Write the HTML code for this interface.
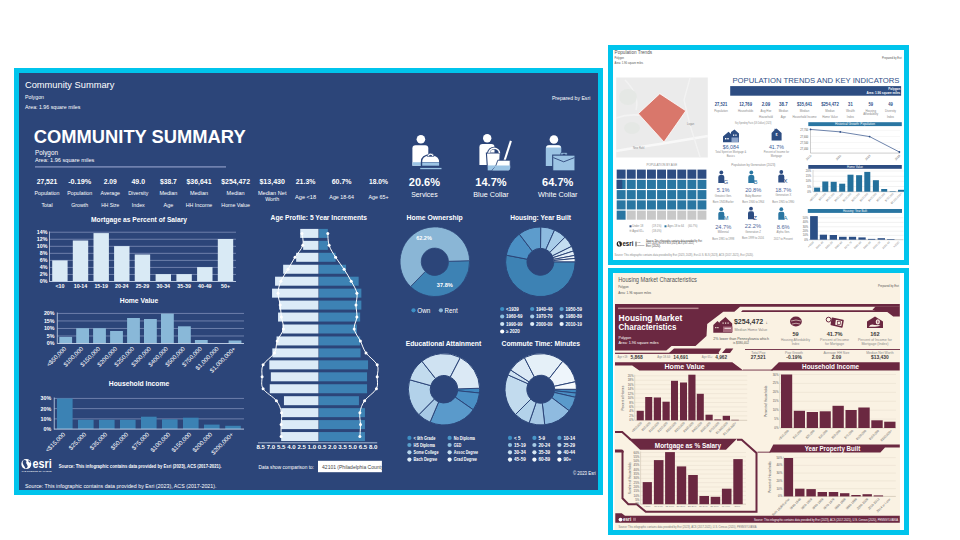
<!DOCTYPE html>
<html><head><meta charset="utf-8"><title>Infographics</title>
<style>
html,body{margin:0;padding:0;background:#fff;}
body{width:960px;height:540px;overflow:hidden;position:relative;}
svg{position:absolute;left:0;top:0;display:block;font-family:"Liberation Sans",sans-serif;}
</style></head><body>
<svg width="960" height="540" viewBox="0 0 960 540">
<rect x="14" y="68" width="589" height="427" fill="#00c4ec" />
<rect x="19" y="73" width="579" height="417" fill="#2c4579" />
<rect x="608" y="45" width="301" height="220" fill="#00c4ec" />
<rect x="613" y="50" width="291" height="210" fill="#ffffff" />
<rect x="608" y="268" width="301" height="267" fill="#00c4ec" />
<rect x="613" y="273" width="291" height="257" fill="#ffffff" />
<rect x="614.5" y="273" width="285.5" height="257" fill="#faf2e3" />
<text x="25" y="87.8" font-size="9.2" fill="#ffffff" textLength="89.3" lengthAdjust="spacingAndGlyphs" >Community Summary</text>
<text x="25" y="99.2" font-size="4.9" fill="#ffffff" textLength="19" lengthAdjust="spacingAndGlyphs" >Polygon</text>
<text x="25" y="108.9" font-size="5.1" fill="#ffffff" textLength="55.4" lengthAdjust="spacingAndGlyphs" >Area: 1.96 square miles</text>
<text x="590.3" y="99.6" font-size="5.9" fill="#ffffff" text-anchor="end" textLength="38.4" lengthAdjust="spacingAndGlyphs" >Prepared by Esri</text>
<text x="33.75" y="142.9" font-size="18.9" fill="#ffffff" font-weight="700" textLength="211.9" lengthAdjust="spacingAndGlyphs" >COMMUNITY SUMMARY</text>
<text x="35" y="154.75" font-size="6.6" fill="#ffffff" textLength="23" lengthAdjust="spacingAndGlyphs" >Polygon</text>
<text x="35" y="161.9" font-size="6.1" fill="#ffffff" textLength="59.4" lengthAdjust="spacingAndGlyphs" >Area: 1.96 square miles</text>
<rect x="35" y="166.3" width="191" height="1.2" fill="#8d9cc6" />
<text x="47" y="183.5" font-size="7" fill="#ffffff" font-weight="700" text-anchor="middle" textLength="20.75" lengthAdjust="spacingAndGlyphs" >27,521</text>
<text x="47" y="195.1" font-size="5.6" fill="#ffffff" text-anchor="middle" textLength="25" lengthAdjust="spacingAndGlyphs" >Population</text>
<text x="47" y="207.4" font-size="5.6" fill="#ffffff" text-anchor="middle" textLength="11.2" lengthAdjust="spacingAndGlyphs" >Total</text>
<text x="79.7" y="183.5" font-size="7" fill="#ffffff" font-weight="700" text-anchor="middle" textLength="23.1" lengthAdjust="spacingAndGlyphs" >-0.19%</text>
<text x="79.7" y="195.1" font-size="5.6" fill="#ffffff" text-anchor="middle" textLength="25" lengthAdjust="spacingAndGlyphs" >Population</text>
<text x="79.7" y="207.4" font-size="5.6" fill="#ffffff" text-anchor="middle" textLength="16.9" lengthAdjust="spacingAndGlyphs" >Growth</text>
<text x="110.3" y="183.5" font-size="7" fill="#ffffff" font-weight="700" text-anchor="middle" textLength="13.1" lengthAdjust="spacingAndGlyphs" >2.09</text>
<text x="110.3" y="195.1" font-size="5.6" fill="#ffffff" text-anchor="middle" textLength="19.5" lengthAdjust="spacingAndGlyphs" >Average</text>
<text x="110.3" y="207.4" font-size="5.6" fill="#ffffff" text-anchor="middle" textLength="18" lengthAdjust="spacingAndGlyphs" >HH Size</text>
<text x="138.25" y="183.5" font-size="7" fill="#ffffff" font-weight="700" text-anchor="middle" textLength="13.5" lengthAdjust="spacingAndGlyphs" >49.0</text>
<text x="138.25" y="195.1" font-size="5.6" fill="#ffffff" text-anchor="middle" textLength="20" lengthAdjust="spacingAndGlyphs" >Diversity</text>
<text x="138.25" y="207.4" font-size="5.6" fill="#ffffff" text-anchor="middle" textLength="13" lengthAdjust="spacingAndGlyphs" >Index</text>
<text x="168.4" y="183.5" font-size="7" fill="#ffffff" font-weight="700" text-anchor="middle" textLength="16.9" lengthAdjust="spacingAndGlyphs" >$38.7</text>
<text x="168.4" y="195.1" font-size="5.6" fill="#ffffff" text-anchor="middle" textLength="18" lengthAdjust="spacingAndGlyphs" >Median</text>
<text x="168.4" y="207.4" font-size="5.6" fill="#ffffff" text-anchor="middle" textLength="9.75" lengthAdjust="spacingAndGlyphs" >Age</text>
<text x="199" y="183.5" font-size="7" fill="#ffffff" font-weight="700" text-anchor="middle" textLength="25" lengthAdjust="spacingAndGlyphs" >$36,641</text>
<text x="199" y="195.1" font-size="5.6" fill="#ffffff" text-anchor="middle" textLength="18" lengthAdjust="spacingAndGlyphs" >Median</text>
<text x="199" y="207.4" font-size="5.6" fill="#ffffff" text-anchor="middle" textLength="26.5" lengthAdjust="spacingAndGlyphs" >HH Income</text>
<text x="235.6" y="183.5" font-size="7" fill="#ffffff" font-weight="700" text-anchor="middle" textLength="28.75" lengthAdjust="spacingAndGlyphs" >$254,472</text>
<text x="235.6" y="195.1" font-size="5.6" fill="#ffffff" text-anchor="middle" textLength="18" lengthAdjust="spacingAndGlyphs" >Median</text>
<text x="235.6" y="207.4" font-size="5.6" fill="#ffffff" text-anchor="middle" textLength="28.5" lengthAdjust="spacingAndGlyphs" >Home Value</text>
<text x="272.2" y="183.6" font-size="7" fill="#ffffff" font-weight="700" text-anchor="middle" textLength="25.5" lengthAdjust="spacingAndGlyphs" >$13,430</text>
<text x="272.2" y="194.9" font-size="5.6" fill="#ffffff" text-anchor="middle" textLength="28.5" lengthAdjust="spacingAndGlyphs" >Median Net</text>
<text x="272.2" y="200.7" font-size="5.6" fill="#ffffff" text-anchor="middle" textLength="14" lengthAdjust="spacingAndGlyphs" >Worth</text>
<text x="305.6" y="183.6" font-size="7" fill="#ffffff" font-weight="700" text-anchor="middle" textLength="19.7" lengthAdjust="spacingAndGlyphs" >21.3%</text>
<text x="305.6" y="199.4" font-size="5.6" fill="#ffffff" text-anchor="middle" textLength="21" lengthAdjust="spacingAndGlyphs" >Age &lt;18</text>
<text x="341.6" y="183.6" font-size="7" fill="#ffffff" font-weight="700" text-anchor="middle" textLength="19.9" lengthAdjust="spacingAndGlyphs" >60.7%</text>
<text x="341.6" y="199.4" font-size="5.6" fill="#ffffff" text-anchor="middle" textLength="24.5" lengthAdjust="spacingAndGlyphs" >Age 18-64</text>
<text x="378.5" y="183.6" font-size="7" fill="#ffffff" font-weight="700" text-anchor="middle" textLength="19" lengthAdjust="spacingAndGlyphs" >18.0%</text>
<text x="378.5" y="199.4" font-size="5.6" fill="#ffffff" text-anchor="middle" textLength="20" lengthAdjust="spacingAndGlyphs" >Age 65+</text>
<text x="424.4" y="186.2" font-size="10.5" fill="#ffffff" font-weight="700" text-anchor="middle" textLength="31.3" lengthAdjust="spacingAndGlyphs" >20.6%</text>
<text x="424.4" y="197" font-size="7.3" fill="#ffffff" text-anchor="middle" textLength="26.4" lengthAdjust="spacingAndGlyphs" >Services</text>
<text x="491" y="186.2" font-size="10.5" fill="#ffffff" font-weight="700" text-anchor="middle" textLength="31.3" lengthAdjust="spacingAndGlyphs" >14.7%</text>
<text x="491" y="197" font-size="7.3" fill="#ffffff" text-anchor="middle" textLength="35.4" lengthAdjust="spacingAndGlyphs" >Blue Collar</text>
<text x="557.7" y="186.2" font-size="10.5" fill="#ffffff" font-weight="700" text-anchor="middle" textLength="31.3" lengthAdjust="spacingAndGlyphs" >64.7%</text>
<text x="557.7" y="197" font-size="7.3" fill="#ffffff" text-anchor="middle" textLength="39.6" lengthAdjust="spacingAndGlyphs" >White Collar</text>
<circle cx="420.9" cy="139.3" r="4.3" fill="#ffffff" />
<path d="M412.4,165.7 L412.4,148.4 Q412.4,145.2 415.6,145.2 L425.1,145.2 Q428.3,145.2 428.3,148.4 L428.3,165.7 Z" fill="#fff"/>
<rect x="412.4" y="162.2" width="15.9" height="3.5" fill="#9cc4e4" />
<path d="M421.6,166.2 L421.6,162 C421.6,157 425.6,155.0 430.6,155.0 C435.6,155.0 439.7,157 439.7,162 L439.7,166.2 Z" fill="#2c4579" stroke="#2c4579" stroke-width="1.6"/>
<path d="M422.2,162 C422.2,157.3 426,155.6 430.6,155.6 C435.2,155.6 439.1,157.3 439.1,162 Z" fill="#fff"/>
<rect x="422.2" y="162.4" width="16.9" height="3.3" fill="#9cc4e4" />
<path d="M427.3,156.5 A3.3,3.3 0 0 1 433.9,156.5 Z" fill="#fff" stroke="#2c4579" stroke-width="0.6"/>
<path d="M428.9,156.3 A1.7,1.5 0 0 1 432.3,156.3 Z" fill="#2c4579"/>
<rect x="420.2" y="167.9" width="21.3" height="1.3" fill="#9cc4e4" />
<circle cx="487.2" cy="138.2" r="4.2" fill="#ffffff" />
<path d="M479.4,165 L479.4,147.2 Q479.4,144 482.6,144 L491.3,144 Q494.5,144 494.5,147.2 L494.5,165 Z" fill="#fff"/>
<path d="M486.4,153 L500.2,153 L499.4,170.6 L487.6,170.6 Z" fill="#fff" stroke="#2c4579" stroke-width="1.1"/>
<path d="M488.6,153.3 A5.6,5.2 0 0 1 499.8,153.3" fill="none" stroke="#2c4579" stroke-width="2.8"/>
<path d="M488.9,153.3 A5.3,5 0 0 1 499.5,153.3" fill="none" stroke="#fff" stroke-width="1.5"/>
<rect x="487.7" y="165.4" width="11.6" height="5" fill="#9cc4e4" />
<path d="M510.9,140.9 L504.4,161" stroke="#fff" stroke-width="2.1"/>
<path d="M497.8,160.2 L510.2,160.2 L510.2,168 Q510.2,170.4 507.8,170.4 L492,170.4 Q496.5,167 497.8,160.2 Z" fill="#fff" stroke="#2c4579" stroke-width="0.9"/>
<path d="M495.5,165.6 L510.2,165.6 L510.2,168 Q510.2,170.4 507.8,170.4 L492.2,170.4 Q494.3,168.5 495.5,165.6 Z" fill="#9cc4e4"/>
<circle cx="553.9" cy="139.5" r="4.3" fill="#ffffff" />
<path d="M545.8,166.1 L545.8,148.4 Q545.8,145.2 549,145.2 L558.1,145.2 Q561.3,145.2 561.3,148.4 L561.3,166.1 Z" fill="#9cc4e4"/>
<path d="M546,147.6 Q546.5,145.3 549,145.3 L558.1,145.3 Q560.8,145.3 561.1,147.6 Z" fill="#fff"/>
<rect x="560.8" y="152.4" width="6.4" height="4" rx="1" fill="#9cc4e4" stroke="#2c4579" stroke-width="0.8"/>
<rect x="562.6" y="153.7" width="2.8" height="1.8" fill="#2c4579" />
<rect x="552.7" y="155.1" width="22.3" height="15.8" fill="#9cc4e4" stroke="#2c4579" stroke-width="1.1"/>
<path d="M553.3,157.6 L563.7,161.8 L574.4,157.6" fill="none" stroke="#2c4579" stroke-width="0.9"/>
<text x="139" y="221.8" font-size="7.7" fill="#ffffff" font-weight="700" text-anchor="middle" textLength="96" lengthAdjust="spacingAndGlyphs" >Mortgage as Percent of Salary</text>
<text x="47.4" y="283.4" font-size="5.3" fill="#ffffff" font-weight="700" text-anchor="end" >0%</text>
<line x1="49.5" y1="274.46" x2="236" y2="274.46" stroke="#7d8eb8" stroke-width="0.8" />
<text x="47.4" y="276.36" font-size="5.3" fill="#ffffff" font-weight="700" text-anchor="end" >2%</text>
<line x1="49.5" y1="267.42" x2="236" y2="267.42" stroke="#7d8eb8" stroke-width="0.8" />
<text x="47.4" y="269.32" font-size="5.3" fill="#ffffff" font-weight="700" text-anchor="end" >4%</text>
<line x1="49.5" y1="260.38" x2="236" y2="260.38" stroke="#7d8eb8" stroke-width="0.8" />
<text x="47.4" y="262.28" font-size="5.3" fill="#ffffff" font-weight="700" text-anchor="end" >6%</text>
<line x1="49.5" y1="253.34" x2="236" y2="253.34" stroke="#7d8eb8" stroke-width="0.8" />
<text x="47.4" y="255.24" font-size="5.3" fill="#ffffff" font-weight="700" text-anchor="end" >8%</text>
<line x1="49.5" y1="246.3" x2="236" y2="246.3" stroke="#7d8eb8" stroke-width="0.8" />
<text x="47.4" y="248.2" font-size="5.3" fill="#ffffff" font-weight="700" text-anchor="end" >10%</text>
<line x1="49.5" y1="239.26" x2="236" y2="239.26" stroke="#7d8eb8" stroke-width="0.8" />
<text x="47.4" y="241.16" font-size="5.3" fill="#ffffff" font-weight="700" text-anchor="end" >12%</text>
<line x1="49.5" y1="232.22" x2="236" y2="232.22" stroke="#7d8eb8" stroke-width="0.8" />
<text x="47.4" y="234.12" font-size="5.3" fill="#ffffff" font-weight="700" text-anchor="end" >14%</text>
<rect x="52.2" y="260.4" width="15.4" height="21.1" fill="#d9eaf5" />
<text x="59.9" y="287.7" font-size="5.3" fill="#ffffff" font-weight="700" text-anchor="middle" >&lt;10</text>
<rect x="72.8" y="240.5" width="15.4" height="41" fill="#d9eaf5" />
<text x="80.5" y="287.7" font-size="5.3" fill="#ffffff" font-weight="700" text-anchor="middle" >10-14</text>
<rect x="93.5" y="233.1" width="15.4" height="48.4" fill="#d9eaf5" />
<text x="101.2" y="287.7" font-size="5.3" fill="#ffffff" font-weight="700" text-anchor="middle" >15-19</text>
<rect x="114.1" y="246.1" width="15.4" height="35.4" fill="#d9eaf5" />
<text x="121.8" y="287.7" font-size="5.3" fill="#ffffff" font-weight="700" text-anchor="middle" >20-24</text>
<rect x="134.75" y="254.5" width="15.4" height="27" fill="#d9eaf5" />
<text x="142.45" y="287.7" font-size="5.3" fill="#ffffff" font-weight="700" text-anchor="middle" >25-29</text>
<rect x="155.6" y="274.1" width="15.4" height="7.4" fill="#d9eaf5" />
<text x="163.3" y="287.7" font-size="5.3" fill="#ffffff" font-weight="700" text-anchor="middle" >30-34</text>
<rect x="176.4" y="274.1" width="15.4" height="7.4" fill="#d9eaf5" />
<text x="184.1" y="287.7" font-size="5.3" fill="#ffffff" font-weight="700" text-anchor="middle" >35-39</text>
<rect x="197.1" y="267.1" width="15.4" height="14.4" fill="#d9eaf5" />
<text x="204.8" y="287.7" font-size="5.3" fill="#ffffff" font-weight="700" text-anchor="middle" >40-49</text>
<rect x="217.8" y="239" width="15.4" height="42.5" fill="#d9eaf5" />
<text x="225.5" y="287.7" font-size="5.3" fill="#ffffff" font-weight="700" text-anchor="middle" >50+</text>
<line x1="49.5" y1="231.5" x2="49.5" y2="282" stroke="#c8d6ea" stroke-width="0.8" />
<line x1="49.5" y1="281.5" x2="236" y2="281.5" stroke="#c8d6ea" stroke-width="0.9" />
<text x="139" y="302.8" font-size="7.7" fill="#ffffff" font-weight="700" text-anchor="middle" textLength="38.5" lengthAdjust="spacingAndGlyphs" >Home Value</text>
<text x="54.5" y="345.4" font-size="5.3" fill="#ffffff" font-weight="700" text-anchor="end" >0%</text>
<line x1="57.3" y1="335.98" x2="244" y2="335.98" stroke="#7d8eb8" stroke-width="0.8" />
<text x="54.5" y="337.88" font-size="5.3" fill="#ffffff" font-weight="700" text-anchor="end" >5%</text>
<line x1="57.3" y1="328.46" x2="244" y2="328.46" stroke="#7d8eb8" stroke-width="0.8" />
<text x="54.5" y="330.36" font-size="5.3" fill="#ffffff" font-weight="700" text-anchor="end" >10%</text>
<line x1="57.3" y1="320.94" x2="244" y2="320.94" stroke="#7d8eb8" stroke-width="0.8" />
<text x="54.5" y="322.84" font-size="5.3" fill="#ffffff" font-weight="700" text-anchor="end" >15%</text>
<line x1="57.3" y1="313.42" x2="244" y2="313.42" stroke="#7d8eb8" stroke-width="0.8" />
<text x="54.5" y="315.32" font-size="5.3" fill="#ffffff" font-weight="700" text-anchor="end" >20%</text>
<rect x="59.3" y="336.9" width="12.8" height="6.6" fill="#89b8d8" />
<text transform="translate(66.7,349.2) rotate(-45)" font-size="6" fill="#ffffff" text-anchor="end">&lt;$50,000</text>
<rect x="76.2" y="328.2" width="12.8" height="15.3" fill="#89b8d8" />
<text transform="translate(83.6,349.2) rotate(-45)" font-size="6" fill="#ffffff" text-anchor="end">$100,000</text>
<rect x="93.1" y="328.2" width="12.8" height="15.3" fill="#89b8d8" />
<text transform="translate(100.5,349.2) rotate(-45)" font-size="6" fill="#ffffff" text-anchor="end">$150,000</text>
<rect x="110.1" y="331" width="12.8" height="12.5" fill="#89b8d8" />
<text transform="translate(117.5,349.2) rotate(-45)" font-size="6" fill="#ffffff" text-anchor="end">$200,000</text>
<rect x="127.1" y="318" width="12.8" height="25.5" fill="#89b8d8" />
<text transform="translate(134.5,349.2) rotate(-45)" font-size="6" fill="#ffffff" text-anchor="end">$250,000</text>
<rect x="144" y="319" width="12.8" height="24.5" fill="#89b8d8" />
<text transform="translate(151.4,349.2) rotate(-45)" font-size="6" fill="#ffffff" text-anchor="end">$300,000</text>
<rect x="161" y="313.6" width="12.8" height="29.9" fill="#89b8d8" />
<text transform="translate(168.4,349.2) rotate(-45)" font-size="6" fill="#ffffff" text-anchor="end">$400,000</text>
<rect x="178" y="326.3" width="12.8" height="17.2" fill="#89b8d8" />
<text transform="translate(185.4,349.2) rotate(-45)" font-size="6" fill="#ffffff" text-anchor="end">$500,000</text>
<rect x="194.9" y="340" width="12.8" height="3.5" fill="#89b8d8" />
<text transform="translate(202.3,349.2) rotate(-45)" font-size="6" fill="#ffffff" text-anchor="end">$750,000</text>
<text transform="translate(219.2,349.2) rotate(-45)" font-size="6" fill="#ffffff" text-anchor="end">$1,000,000</text>
<rect x="228.6" y="340.5" width="12.8" height="3" fill="#89b8d8" />
<text transform="translate(236,349.2) rotate(-45)" font-size="6" fill="#ffffff" text-anchor="end">$1,000,000+</text>
<line x1="57.3" y1="312.5" x2="57.3" y2="344" stroke="#c8d6ea" stroke-width="0.8" />
<line x1="57.3" y1="343.5" x2="244" y2="343.5" stroke="#c8d6ea" stroke-width="0.9" />
<text x="139" y="386.2" font-size="7.7" fill="#ffffff" font-weight="700" text-anchor="middle" textLength="60.5" lengthAdjust="spacingAndGlyphs" >Household Income</text>
<text x="51.2" y="431" font-size="5.3" fill="#ffffff" font-weight="700" text-anchor="end" >0%</text>
<line x1="54.25" y1="418.87" x2="244" y2="418.87" stroke="#7d8eb8" stroke-width="0.8" />
<text x="51.2" y="420.77" font-size="5.3" fill="#ffffff" font-weight="700" text-anchor="end" >10%</text>
<line x1="54.25" y1="408.64" x2="244" y2="408.64" stroke="#7d8eb8" stroke-width="0.8" />
<text x="51.2" y="410.54" font-size="5.3" fill="#ffffff" font-weight="700" text-anchor="end" >20%</text>
<line x1="54.25" y1="398.41" x2="244" y2="398.41" stroke="#7d8eb8" stroke-width="0.8" />
<text x="51.2" y="400.31" font-size="5.3" fill="#ffffff" font-weight="700" text-anchor="end" >30%</text>
<rect x="57" y="398.4" width="15.6" height="30.7" fill="#3b82b4" />
<text transform="translate(65.6,434.8) rotate(-45)" font-size="6" fill="#ffffff" text-anchor="end">&lt;$15,000</text>
<rect x="78" y="419.8" width="15.6" height="9.3" fill="#3b82b4" />
<text transform="translate(86.6,434.8) rotate(-45)" font-size="6" fill="#ffffff" text-anchor="end">$25,000</text>
<rect x="99" y="419.8" width="15.6" height="9.3" fill="#3b82b4" />
<text transform="translate(107.6,434.8) rotate(-45)" font-size="6" fill="#ffffff" text-anchor="end">$35,000</text>
<rect x="120" y="419.8" width="15.6" height="9.3" fill="#3b82b4" />
<text transform="translate(128.6,434.8) rotate(-45)" font-size="6" fill="#ffffff" text-anchor="end">$50,000</text>
<rect x="141" y="416.7" width="15.6" height="12.4" fill="#3b82b4" />
<text transform="translate(149.6,434.8) rotate(-45)" font-size="6" fill="#ffffff" text-anchor="end">$75,000</text>
<rect x="162" y="419.3" width="15.6" height="9.8" fill="#3b82b4" />
<text transform="translate(170.6,434.8) rotate(-45)" font-size="6" fill="#ffffff" text-anchor="end">$100,000</text>
<rect x="183" y="417.7" width="15.6" height="11.4" fill="#3b82b4" />
<text transform="translate(191.6,434.8) rotate(-45)" font-size="6" fill="#ffffff" text-anchor="end">$150,000</text>
<rect x="204" y="424.6" width="15.6" height="4.5" fill="#3b82b4" />
<text transform="translate(212.6,434.8) rotate(-45)" font-size="6" fill="#ffffff" text-anchor="end">$200,000</text>
<rect x="225.2" y="425.8" width="15.6" height="3.3" fill="#3b82b4" />
<text transform="translate(233.8,434.8) rotate(-45)" font-size="6" fill="#ffffff" text-anchor="end">$200,000+</text>
<line x1="54.25" y1="397.5" x2="54.25" y2="429.6" stroke="#c8d6ea" stroke-width="0.8" />
<line x1="54.25" y1="429.1" x2="244" y2="429.1" stroke="#c8d6ea" stroke-width="0.9" />
<circle cx="26.3" cy="464.1" r="5" fill="#ffffff" />
<path d="M23,460.5 Q25,459.5 26.5,461 Q25.5,463 27,464.5 Q28.5,466 27,468 L25.5,468.5 Q24.5,466 23.5,465 Q22,463.5 23,460.5 Z" fill="#2c4579"/>
<path d="M28.5,460 Q30.5,461 30.5,463 Q29.5,462.5 28.5,461.5 Z" fill="#2c4579"/>
<text x="32.6" y="467.6" font-size="12" fill="#ffffff" font-weight="700" textLength="19.2" lengthAdjust="spacingAndGlyphs" >esri</text>
<text x="21.5" y="472.3" font-size="2.2" fill="#ffffff" textLength="30" lengthAdjust="spacingAndGlyphs" >THE SCIENCE OF WHERE</text>
<text x="58.8" y="468.2" font-size="5.1" fill="#ffffff" font-weight="700" textLength="162.7" lengthAdjust="spacingAndGlyphs" >Source: This infographic contains data provided by Esri (2023), ACS (2017-2021).</text>
<text x="25" y="488" font-size="5.4" fill="#ffffff" textLength="191.5" lengthAdjust="spacingAndGlyphs" >Source: This infographic contains data provided by Esri (2023), ACS (2017-2021).</text>
<text x="595.8" y="474.8" font-size="5.8" fill="#ffffff" text-anchor="end" textLength="22.9" lengthAdjust="spacingAndGlyphs" >© 2023 Esri</text>
<text x="318.75" y="220.1" font-size="7.7" fill="#ffffff" font-weight="700" text-anchor="middle" textLength="96.3" lengthAdjust="spacingAndGlyphs" >Age Profile: 5 Year Increments</text>
<rect x="300.25" y="228.9" width="18.2" height="9" fill="#dcebf7" />
<rect x="319.05" y="228.9" width="8.8" height="9" fill="#3d82b4" />
<rect x="303.15" y="240.85" width="15.3" height="9" fill="#dcebf7" />
<rect x="319.05" y="240.85" width="8.8" height="9" fill="#3d82b4" />
<rect x="296.15" y="252.8" width="22.3" height="9" fill="#dcebf7" />
<rect x="319.05" y="252.8" width="16.6" height="9" fill="#3d82b4" />
<rect x="283.15" y="264.75" width="35.3" height="9" fill="#dcebf7" />
<rect x="319.05" y="264.75" width="27" height="9" fill="#3d82b4" />
<rect x="275.05" y="276.7" width="43.4" height="9" fill="#dcebf7" />
<rect x="319.05" y="276.7" width="39.6" height="9" fill="#3d82b4" />
<rect x="272.05" y="288.65" width="46.4" height="9" fill="#dcebf7" />
<rect x="319.05" y="288.65" width="42.3" height="9" fill="#3d82b4" />
<rect x="279.05" y="300.6" width="39.4" height="9" fill="#dcebf7" />
<rect x="319.05" y="300.6" width="42.3" height="9" fill="#3d82b4" />
<rect x="278.05" y="312.55" width="40.4" height="9" fill="#dcebf7" />
<rect x="319.05" y="312.55" width="41.1" height="9" fill="#3d82b4" />
<rect x="282.45" y="324.5" width="36" height="9" fill="#dcebf7" />
<rect x="319.05" y="324.5" width="37.9" height="9" fill="#3d82b4" />
<rect x="276.55" y="336.45" width="41.9" height="9" fill="#dcebf7" />
<rect x="319.05" y="336.45" width="41.1" height="9" fill="#3d82b4" />
<rect x="272.35" y="348.4" width="46.1" height="9" fill="#dcebf7" />
<rect x="319.05" y="348.4" width="41.5" height="9" fill="#3d82b4" />
<rect x="269.35" y="360.35" width="49.1" height="9" fill="#dcebf7" />
<rect x="319.05" y="360.35" width="49" height="9" fill="#3d82b4" />
<rect x="270.85" y="372.3" width="47.6" height="9" fill="#dcebf7" />
<rect x="319.05" y="372.3" width="48" height="9" fill="#3d82b4" />
<rect x="269.75" y="384.25" width="48.7" height="9" fill="#dcebf7" />
<rect x="319.05" y="384.25" width="48" height="9" fill="#3d82b4" />
<rect x="283.95" y="396.2" width="34.5" height="9" fill="#dcebf7" />
<rect x="319.05" y="396.2" width="39.9" height="9" fill="#3d82b4" />
<rect x="281.15" y="408.15" width="37.3" height="9" fill="#dcebf7" />
<rect x="319.05" y="408.15" width="45.9" height="9" fill="#3d82b4" />
<rect x="281.15" y="420.1" width="37.3" height="9" fill="#dcebf7" />
<rect x="319.05" y="420.1" width="45.9" height="9" fill="#3d82b4" />
<rect x="281.15" y="432.05" width="37.3" height="9" fill="#dcebf7" />
<rect x="319.05" y="432.05" width="45.9" height="9" fill="#3d82b4" />
<path d="M302,233.4 C302.13,235.39 303.97,241.37 302.8,245.35 C301.63,249.33 297.47,253.32 295,257.3 C292.53,261.28 290.35,265.27 288,269.25 C285.65,273.23 282.57,277.22 280.9,281.2 C279.23,285.18 278.12,289.17 278,293.15 C277.88,297.13 279.63,301.12 280.2,305.1 C280.77,309.08 280.87,313.07 281.4,317.05 C281.93,321.03 284.1,325.02 283.4,329 C282.7,332.98 278.68,336.97 277.2,340.95 C275.72,344.93 276.85,348.92 274.5,352.9 C272.15,356.88 265.17,360.87 263.1,364.85 C261.03,368.83 262.1,372.82 262.1,376.8 C262.1,380.78 260.72,384.77 263.1,388.75 C265.48,392.73 273.33,396.72 276.4,400.7 C279.47,404.68 280.72,408.67 281.5,412.65 C282.28,416.63 281.17,420.62 281.1,424.6 C281.03,428.58 281.1,434.56 281.1,436.55" fill="none" stroke="#fff" stroke-width="1.0"/>
<circle cx="302" cy="233.4" r="1.5" fill="#ffffff" />
<circle cx="302.8" cy="245.35" r="1.5" fill="#ffffff" />
<circle cx="295" cy="257.3" r="1.5" fill="#ffffff" />
<circle cx="288" cy="269.25" r="1.5" fill="#ffffff" />
<circle cx="280.9" cy="281.2" r="1.5" fill="#ffffff" />
<circle cx="278" cy="293.15" r="1.5" fill="#ffffff" />
<circle cx="280.2" cy="305.1" r="1.5" fill="#ffffff" />
<circle cx="281.4" cy="317.05" r="1.5" fill="#ffffff" />
<circle cx="283.4" cy="329" r="1.5" fill="#ffffff" />
<circle cx="277.2" cy="340.95" r="1.5" fill="#ffffff" />
<circle cx="274.5" cy="352.9" r="1.5" fill="#ffffff" />
<circle cx="263.1" cy="364.85" r="1.5" fill="#ffffff" />
<circle cx="262.1" cy="376.8" r="1.5" fill="#ffffff" />
<circle cx="263.1" cy="388.75" r="1.5" fill="#ffffff" />
<circle cx="276.4" cy="400.7" r="1.5" fill="#ffffff" />
<circle cx="281.5" cy="412.65" r="1.5" fill="#ffffff" />
<circle cx="281.1" cy="424.6" r="1.5" fill="#ffffff" />
<circle cx="281.1" cy="436.55" r="1.5" fill="#ffffff" />
<path d="M327.8,233.4 C328.02,235.39 327.8,241.37 329.1,245.35 C330.4,249.33 333.1,253.32 335.6,257.3 C338.1,261.28 341.5,265.27 344.1,269.25 C346.7,273.23 349.07,277.22 351.2,281.2 C353.33,285.18 356.1,289.17 356.9,293.15 C357.7,297.13 356,301.12 356,305.1 C356,309.08 357.2,313.07 356.9,317.05 C356.6,321.03 353.62,325.02 354.2,329 C354.78,332.98 358.43,336.97 360.4,340.95 C362.37,344.93 363.2,348.92 366,352.9 C368.8,356.88 375.33,360.87 377.2,364.85 C379.07,368.83 377.33,372.82 377.2,376.8 C377.07,380.78 378.5,384.77 376.4,388.75 C374.3,392.73 367.35,396.72 364.6,400.7 C361.85,404.68 360.58,408.67 359.9,412.65 C359.22,416.63 360.5,420.62 360.5,424.6 C360.5,428.58 360,434.56 359.9,436.55" fill="none" stroke="#fff" stroke-width="1.0"/>
<circle cx="327.8" cy="233.4" r="1.5" fill="#ffffff" />
<circle cx="329.1" cy="245.35" r="1.5" fill="#ffffff" />
<circle cx="335.6" cy="257.3" r="1.5" fill="#ffffff" />
<circle cx="344.1" cy="269.25" r="1.5" fill="#ffffff" />
<circle cx="351.2" cy="281.2" r="1.5" fill="#ffffff" />
<circle cx="356.9" cy="293.15" r="1.5" fill="#ffffff" />
<circle cx="356" cy="305.1" r="1.5" fill="#ffffff" />
<circle cx="356.9" cy="317.05" r="1.5" fill="#ffffff" />
<circle cx="354.2" cy="329" r="1.5" fill="#ffffff" />
<circle cx="360.4" cy="340.95" r="1.5" fill="#ffffff" />
<circle cx="366" cy="352.9" r="1.5" fill="#ffffff" />
<circle cx="377.2" cy="364.85" r="1.5" fill="#ffffff" />
<circle cx="377.2" cy="376.8" r="1.5" fill="#ffffff" />
<circle cx="376.4" cy="388.75" r="1.5" fill="#ffffff" />
<circle cx="364.6" cy="400.7" r="1.5" fill="#ffffff" />
<circle cx="359.9" cy="412.65" r="1.5" fill="#ffffff" />
<circle cx="360.5" cy="424.6" r="1.5" fill="#ffffff" />
<circle cx="359.9" cy="436.55" r="1.5" fill="#ffffff" />
<line x1="258" y1="442.8" x2="377.2" y2="442.8" stroke="#c8d6ea" stroke-width="0.8" />
<text x="260.7" y="449.3" font-size="6.1" fill="#ffffff" font-weight="700" text-anchor="middle" >8.5</text>
<text x="270.93" y="449.3" font-size="6.1" fill="#ffffff" font-weight="700" text-anchor="middle" >7.0</text>
<text x="281.16" y="449.3" font-size="6.1" fill="#ffffff" font-weight="700" text-anchor="middle" >5.5</text>
<text x="291.39" y="449.3" font-size="6.1" fill="#ffffff" font-weight="700" text-anchor="middle" >4.0</text>
<text x="301.62" y="449.3" font-size="6.1" fill="#ffffff" font-weight="700" text-anchor="middle" >2.5</text>
<text x="311.85" y="449.3" font-size="6.1" fill="#ffffff" font-weight="700" text-anchor="middle" >1.0</text>
<text x="322.08" y="449.3" font-size="6.1" fill="#ffffff" font-weight="700" text-anchor="middle" >0.5</text>
<text x="332.31" y="449.3" font-size="6.1" fill="#ffffff" font-weight="700" text-anchor="middle" >2.0</text>
<text x="342.54" y="449.3" font-size="6.1" fill="#ffffff" font-weight="700" text-anchor="middle" >3.5</text>
<text x="352.77" y="449.3" font-size="6.1" fill="#ffffff" font-weight="700" text-anchor="middle" >5.0</text>
<text x="363" y="449.3" font-size="6.1" fill="#ffffff" font-weight="700" text-anchor="middle" >6.5</text>
<text x="373.23" y="449.3" font-size="6.1" fill="#ffffff" font-weight="700" text-anchor="middle" >8.0</text>
<text x="258.6" y="468.9" font-size="5.6" fill="#ffffff" textLength="55.4" lengthAdjust="spacingAndGlyphs" >Data show comparison to:</text>
<rect x="318" y="460.8" width="63.9" height="11.4" fill="#ffffff" />
<svg x="318" y="460.8" width="63.9" height="11.4"><text x="4.1" y="8.1" font-size="5.3" fill="#444" textLength="63" lengthAdjust="spacingAndGlyphs">42101 (Philadelphia County)</text></svg>
<text x="434.7" y="219.8" font-size="7.4" fill="#ffffff" font-weight="700" text-anchor="middle" textLength="56.2" lengthAdjust="spacingAndGlyphs" >Home Ownership</text>
<path d="M469.63,260.67 A34.8,34.8 0 0 1 410.55,286.61 L425.35,271.43 A13.6,13.6 0 0 0 448.44,261.3 Z" fill="#3d82b4" stroke="#2c4579" stroke-width="0.8"/>
<path d="M410.55,286.61 A34.8,34.8 0 1 1 469.63,260.67 L448.44,261.3 A13.6,13.6 0 1 0 425.35,271.43 Z" fill="#8ab6d6" stroke="#2c4579" stroke-width="0.8"/>
<text x="424" y="240" font-size="5.7" fill="#ffffff" font-weight="700" text-anchor="middle" textLength="15.5" lengthAdjust="spacingAndGlyphs" >62.2%</text>
<text x="444.8" y="286.8" font-size="5.7" fill="#ffffff" font-weight="700" text-anchor="middle" textLength="16" lengthAdjust="spacingAndGlyphs" >37.8%</text>
<circle cx="413.5" cy="310.3" r="2.1" fill="#3d8fc4" />
<text x="417.25" y="312.6" font-size="6.5" fill="#ffffff" textLength="13.1" lengthAdjust="spacingAndGlyphs" >Own</text>
<circle cx="440.9" cy="310.3" r="2.1" fill="#8ab6d6" />
<text x="444.6" y="312.6" font-size="6.5" fill="#ffffff" textLength="13.1" lengthAdjust="spacingAndGlyphs" >Rent</text>
<text x="540.6" y="219.8" font-size="7.4" fill="#ffffff" font-weight="700" text-anchor="middle" textLength="60.8" lengthAdjust="spacingAndGlyphs" >Housing: Year Built</text>
<path d="M575.2,261.8 A34.8,34.8 0 1 1 506.24,255.16 L527.25,259.24 A13.4,13.4 0 1 0 553.8,261.8 Z" fill="#3d82b4" stroke="#2c4579" stroke-width="1.0"/>
<path d="M506.24,255.16 A34.8,34.8 0 0 1 519.31,234.12 L532.28,251.14 A13.4,13.4 0 0 0 527.25,259.24 Z" fill="#4a8fc4" stroke="#2c4579" stroke-width="1.0"/>
<path d="M519.31,234.12 A34.8,34.8 0 0 1 540.83,227 L540.56,248.4 A13.4,13.4 0 0 0 532.28,251.14 Z" fill="#5d9ccc" stroke="#2c4579" stroke-width="1.0"/>
<path d="M540.83,227 A34.8,34.8 0 0 1 554.55,230.01 L545.85,249.56 A13.4,13.4 0 0 0 540.56,248.4 Z" fill="#8dbbe0" stroke="#2c4579" stroke-width="1.0"/>
<path d="M554.55,230.01 A34.8,34.8 0 0 1 565.01,237.19 L549.88,252.32 A13.4,13.4 0 0 0 545.85,249.56 Z" fill="#a9cde9" stroke="#2c4579" stroke-width="1.0"/>
<path d="M565.01,237.19 A34.8,34.8 0 0 1 571.6,246.38 L552.41,255.86 A13.4,13.4 0 0 0 549.88,252.32 Z" fill="#c3ddf0" stroke="#2c4579" stroke-width="1.0"/>
<path d="M571.6,246.38 A34.8,34.8 0 0 1 573.48,250.99 L553.14,257.64 A13.4,13.4 0 0 0 552.41,255.86 Z" fill="#d5e8f5" stroke="#2c4579" stroke-width="1.0"/>
<path d="M573.48,250.99 A34.8,34.8 0 0 1 574.62,255.46 L553.58,259.36 A13.4,13.4 0 0 0 553.14,257.64 Z" fill="#e5f0f8" stroke="#2c4579" stroke-width="1.0"/>
<path d="M574.62,255.46 A34.8,34.8 0 0 1 575.04,258.46 L553.74,260.52 A13.4,13.4 0 0 0 553.58,259.36 Z" fill="#f0f6fb" stroke="#2c4579" stroke-width="1.0"/>
<path d="M575.04,258.46 A34.8,34.8 0 0 1 575.2,261.8 L553.8,261.8 A13.4,13.4 0 0 0 553.74,260.52 Z" fill="#f7fbfd" stroke="#2c4579" stroke-width="1.0"/>
<circle cx="502.2" cy="309" r="2.1" fill="#3d8fc4" />
<text x="506" y="310.6" font-size="4.5" fill="#ffffff" font-weight="700" >&lt;1939</text>
<circle cx="532.2" cy="309" r="2.1" fill="#4a97c8" />
<text x="536" y="310.6" font-size="4.5" fill="#ffffff" font-weight="700" >1940-49</text>
<circle cx="561.6" cy="309" r="2.1" fill="#5aa0cc" />
<text x="565.4" y="310.6" font-size="4.5" fill="#ffffff" font-weight="700" >1950-59</text>
<circle cx="502.2" cy="316.5" r="2.1" fill="#8fc0e0" />
<text x="506" y="318.1" font-size="4.5" fill="#ffffff" font-weight="700" >1960-69</text>
<circle cx="532.2" cy="316.5" r="2.1" fill="#a9cde9" />
<text x="536" y="318.1" font-size="4.5" fill="#ffffff" font-weight="700" >1970-79</text>
<circle cx="561.6" cy="316.5" r="2.1" fill="#bcd8ee" />
<text x="565.4" y="318.1" font-size="4.5" fill="#ffffff" font-weight="700" >1980-89</text>
<circle cx="502.2" cy="324" r="2.1" fill="#d0e5f4" />
<text x="506" y="325.6" font-size="4.5" fill="#ffffff" font-weight="700" >1990-99</text>
<circle cx="532.2" cy="324" r="2.1" fill="#e1eef8" />
<text x="536" y="325.6" font-size="4.5" fill="#ffffff" font-weight="700" >2000-09</text>
<circle cx="561.6" cy="324" r="2.1" fill="#eef5fb" />
<text x="565.4" y="325.6" font-size="4.5" fill="#ffffff" font-weight="700" >2010-19</text>
<circle cx="502.2" cy="331.5" r="2.1" fill="#ffffff" />
<text x="506" y="333.1" font-size="4.5" fill="#ffffff" font-weight="700" >≥ 2020</text>
<text x="443.4" y="346.1" font-size="7.4" fill="#ffffff" font-weight="700" text-anchor="middle" textLength="75.5" lengthAdjust="spacingAndGlyphs" >Educational Attainment</text>
<path d="M479.68,388.24 A35.7,35.7 0 0 1 479.5,393.03 L457.62,390.73 A13.7,13.7 0 0 0 457.69,388.89 Z" fill="#3f87bf" stroke="#2c4579" stroke-width="1.0"/>
<path d="M479.5,393.03 A35.7,35.7 0 0 1 473.24,409.78 L455.22,397.16 A13.7,13.7 0 0 0 457.62,390.73 Z" fill="#4a8fc4" stroke="#2c4579" stroke-width="1.0"/>
<path d="M473.24,409.78 A35.7,35.7 0 0 1 430.05,422.16 L438.65,401.91 A13.7,13.7 0 0 0 455.22,397.16 Z" fill="#5a9acb" stroke="#2c4579" stroke-width="1.0"/>
<path d="M430.05,422.16 A35.7,35.7 0 0 1 418.89,414.68 L434.36,399.04 A13.7,13.7 0 0 0 438.65,401.91 Z" fill="#a7c9e5" stroke="#2c4579" stroke-width="1.0"/>
<path d="M418.89,414.68 A35.7,35.7 0 0 1 409.6,379.76 L430.8,385.64 A13.7,13.7 0 0 0 434.36,399.04 Z" fill="#b3d2ea" stroke="#2c4579" stroke-width="1.0"/>
<path d="M409.6,379.76 A35.7,35.7 0 0 1 421.92,361.24 L435.53,378.53 A13.7,13.7 0 0 0 430.8,385.64 Z" fill="#c2dbee" stroke="#2c4579" stroke-width="1.0"/>
<path d="M421.92,361.24 A35.7,35.7 0 0 1 460.37,357.58 L450.28,377.13 A13.7,13.7 0 0 0 435.53,378.53 Z" fill="#cfe2f2" stroke="#2c4579" stroke-width="1.0"/>
<path d="M460.37,357.58 A35.7,35.7 0 0 1 479.68,388.24 L457.69,388.89 A13.7,13.7 0 0 0 450.28,377.13 Z" fill="#dbe9f5" stroke="#2c4579" stroke-width="1.0"/>
<circle cx="409.4" cy="437.9" r="2.1" fill="#3d8fc4" />
<text x="413.5" y="439.5" font-size="4.5" fill="#ffffff" font-weight="700" textLength="21.9" lengthAdjust="spacingAndGlyphs" >&lt; 9th Grade</text>
<circle cx="449.6" cy="437.9" r="2.1" fill="#4a97c8" />
<text x="453.7" y="439.5" font-size="4.5" fill="#ffffff" font-weight="700" textLength="21.25" lengthAdjust="spacingAndGlyphs" >No Diploma</text>
<circle cx="409.4" cy="445" r="2.1" fill="#5aa0cc" />
<text x="413.5" y="446.6" font-size="4.5" fill="#ffffff" font-weight="700" textLength="21.5" lengthAdjust="spacingAndGlyphs" >HS Diploma</text>
<circle cx="449.6" cy="445" r="2.1" fill="#8fc0e0" />
<text x="453.7" y="446.6" font-size="4.5" fill="#ffffff" font-weight="700" textLength="7.7" lengthAdjust="spacingAndGlyphs" >GED</text>
<circle cx="409.4" cy="452.3" r="2.1" fill="#b5d5ec" />
<text x="413.5" y="453.9" font-size="4.5" fill="#ffffff" font-weight="700" textLength="25" lengthAdjust="spacingAndGlyphs" >Some College</text>
<circle cx="449.6" cy="452.3" r="2.1" fill="#c7e0f1" />
<text x="453.7" y="453.9" font-size="4.5" fill="#ffffff" font-weight="700" textLength="24.4" lengthAdjust="spacingAndGlyphs" >Assoc Degree</text>
<circle cx="409.4" cy="459.6" r="2.1" fill="#dbeaf6" />
<text x="413.5" y="461.2" font-size="4.5" fill="#ffffff" font-weight="700" textLength="23.6" lengthAdjust="spacingAndGlyphs" >Bach Degree</text>
<circle cx="449.6" cy="459.6" r="2.1" fill="#ebf3fa" />
<text x="453.7" y="461.2" font-size="4.5" fill="#ffffff" font-weight="700" textLength="23.3" lengthAdjust="spacingAndGlyphs" >Grad Degree</text>
<text x="540.8" y="346.1" font-size="7.4" fill="#ffffff" font-weight="700" text-anchor="middle" textLength="78.6" lengthAdjust="spacingAndGlyphs" >Commute Time: Minutes</text>
<path d="M576.4,389.3 A35.7,35.7 0 0 1 576.2,393.03 L554.52,390.75 A13.9,13.9 0 0 0 554.6,389.3 Z" fill="#3f87bf" stroke="#2c4579" stroke-width="1.0"/>
<path d="M576.2,393.03 A35.7,35.7 0 0 1 575.49,397.33 L554.24,392.43 A13.9,13.9 0 0 0 554.52,390.75 Z" fill="#4a8fc4" stroke="#2c4579" stroke-width="1.0"/>
<path d="M575.49,397.33 A35.7,35.7 0 0 1 569.21,410.78 L551.8,397.67 A13.9,13.9 0 0 0 554.24,392.43 Z" fill="#5a9acb" stroke="#2c4579" stroke-width="1.0"/>
<path d="M569.21,410.78 A35.7,35.7 0 0 1 544.74,424.77 L542.27,403.11 A13.9,13.9 0 0 0 551.8,397.67 Z" fill="#8fbbe0" stroke="#2c4579" stroke-width="1.0"/>
<path d="M544.74,424.77 A35.7,35.7 0 0 1 529.08,423.06 L536.17,402.44 A13.9,13.9 0 0 0 542.27,403.11 Z" fill="#a7c9e5" stroke="#2c4579" stroke-width="1.0"/>
<path d="M529.08,423.06 A35.7,35.7 0 0 1 515.46,414.54 L530.87,399.13 A13.9,13.9 0 0 0 536.17,402.44 Z" fill="#b3d2ea" stroke="#2c4579" stroke-width="1.0"/>
<path d="M515.46,414.54 A35.7,35.7 0 0 1 508.04,374.89 L527.98,383.69 A13.9,13.9 0 0 0 530.87,399.13 Z" fill="#c2dbee" stroke="#2c4579" stroke-width="1.0"/>
<path d="M508.04,374.89 A35.7,35.7 0 0 1 510.66,370.01 L529,381.79 A13.9,13.9 0 0 0 527.98,383.69 Z" fill="#cfe2f2" stroke="#2c4579" stroke-width="1.0"/>
<path d="M510.66,370.01 A35.7,35.7 0 0 1 524.38,357.55 L534.35,376.94 A13.9,13.9 0 0 0 529,381.79 Z" fill="#dbe9f5" stroke="#2c4579" stroke-width="1.0"/>
<path d="M524.38,357.55 A35.7,35.7 0 0 1 562.78,361.24 L549.3,378.38 A13.9,13.9 0 0 0 534.35,376.94 Z" fill="#e5f0f8" stroke="#2c4579" stroke-width="1.0"/>
<path d="M562.78,361.24 A35.7,35.7 0 0 1 575.58,381.69 L554.28,386.34 A13.9,13.9 0 0 0 549.3,378.38 Z" fill="#eef5fb" stroke="#2c4579" stroke-width="1.0"/>
<path d="M575.58,381.69 A35.7,35.7 0 0 1 576.4,389.3 L554.6,389.3 A13.9,13.9 0 0 0 554.28,386.34 Z" fill="#f7fbfd" stroke="#2c4579" stroke-width="1.0"/>
<circle cx="510" cy="437.9" r="2.1" fill="#3d8fc4" />
<text x="514" y="439.5" font-size="4.6" fill="#ffffff" font-weight="700" >&lt; 5</text>
<circle cx="534.4" cy="437.9" r="2.1" fill="#4a97c8" />
<text x="538.4" y="439.5" font-size="4.6" fill="#ffffff" font-weight="700" >5-9</text>
<circle cx="559.4" cy="437.9" r="2.1" fill="#5aa0cc" />
<text x="563.4" y="439.5" font-size="4.6" fill="#ffffff" font-weight="700" >10-14</text>
<circle cx="510" cy="445" r="2.1" fill="#8fc0e0" />
<text x="514" y="446.6" font-size="4.6" fill="#ffffff" font-weight="700" >15-19</text>
<circle cx="534.4" cy="445" r="2.1" fill="#a5cbe6" />
<text x="538.4" y="446.6" font-size="4.6" fill="#ffffff" font-weight="700" >20-24</text>
<circle cx="559.4" cy="445" r="2.1" fill="#b5d5ec" />
<text x="563.4" y="446.6" font-size="4.6" fill="#ffffff" font-weight="700" >25-29</text>
<circle cx="510" cy="452.3" r="2.1" fill="#c7e0f1" />
<text x="514" y="453.9" font-size="4.6" fill="#ffffff" font-weight="700" >30-34</text>
<circle cx="534.4" cy="452.3" r="2.1" fill="#d5e7f4" />
<text x="538.4" y="453.9" font-size="4.6" fill="#ffffff" font-weight="700" >35-39</text>
<circle cx="559.4" cy="452.3" r="2.1" fill="#dbeaf6" />
<text x="563.4" y="453.9" font-size="4.6" fill="#ffffff" font-weight="700" >40-44</text>
<circle cx="510" cy="459.6" r="2.1" fill="#ebf3fa" />
<text x="514" y="461.2" font-size="4.6" fill="#ffffff" font-weight="700" >45-59</text>
<circle cx="534.4" cy="459.6" r="2.1" fill="#f3f8fc" />
<text x="538.4" y="461.2" font-size="4.6" fill="#ffffff" font-weight="700" >60-89</text>
<circle cx="559.4" cy="459.6" r="2.1" fill="#ffffff" />
<text x="563.4" y="461.2" font-size="4.6" fill="#ffffff" font-weight="700" >90+</text>
<text x="614.6" y="53.7" font-size="5.2" fill="#555555" textLength="37.5" lengthAdjust="spacingAndGlyphs" >Population Trends</text>
<text x="614.6" y="58.9" font-size="3" fill="#555555" textLength="9.4" lengthAdjust="spacingAndGlyphs" >Polygon</text>
<text x="614.6" y="63.6" font-size="3" fill="#555555" textLength="28.6" lengthAdjust="spacingAndGlyphs" >Area: 1.96 square miles</text>
<text x="901.8" y="58.9" font-size="3" fill="#555555" text-anchor="end" textLength="19.7" lengthAdjust="spacingAndGlyphs" >Prepared by Esri</text>
<rect x="616.2" y="77.5" width="91.6" height="80" fill="#ebebeb" />
<path d="M616,151 Q640,147 660,144 Q690,139 708,136" fill="none" stroke="#f8f8f8" stroke-width="2.5"/>
<path d="M616,118 Q630,113 645,116" fill="none" stroke="#f3f3f3" stroke-width="1.5"/>
<path d="M690,78 L684,100 L690,125 L700,157" fill="none" stroke="#f3f3f3" stroke-width="1.3"/>
<path d="M625,80 Q640,95 636,110" fill="none" stroke="#f2f2f2" stroke-width="1.5"/>
<ellipse cx="628" cy="97" rx="9" ry="8" fill="#e5e8e5"/>
<ellipse cx="632" cy="128" rx="8" ry="6" fill="#e5e8e5"/>
<polygon points="659.8,93.7 685.8,110.8 664,142 638.3,113.7" fill="#d9776b" stroke="#ffffff" stroke-width="0.8"/>
<text x="633" y="149.3" font-size="2.6" fill="#888" >New Rohl</text>
<text x="687" y="124.5" font-size="2.6" fill="#888" >Logan</text>
<text x="732.4" y="83.4" font-size="7.9" fill="#2f4f88" textLength="167.1" lengthAdjust="spacingAndGlyphs" >POPULATION TRENDS AND KEY INDICATORS</text>
<rect x="730.2" y="86.1" width="170.9" height="9.6" fill="#2d4d82" />
<text x="900.3" y="89.9" font-size="3.2" fill="#ffffff" font-weight="700" text-anchor="end" textLength="12" lengthAdjust="spacingAndGlyphs" >Polygon</text>
<text x="900.3" y="93.8" font-size="3.2" fill="#ffffff" font-weight="700" text-anchor="end" textLength="33.8" lengthAdjust="spacingAndGlyphs" >Area: 1.96 square miles</text>
<text x="721" y="106.3" font-size="4.5" fill="#2f4f88" font-weight="700" text-anchor="middle" textLength="12.5" lengthAdjust="spacingAndGlyphs" >27,521</text>
<text x="745.6" y="106.3" font-size="4.5" fill="#2f4f88" font-weight="700" text-anchor="middle" textLength="12.7" lengthAdjust="spacingAndGlyphs" >12,769</text>
<text x="766" y="106.3" font-size="4.5" fill="#2f4f88" font-weight="700" text-anchor="middle" textLength="8.7" lengthAdjust="spacingAndGlyphs" >2.09</text>
<text x="783.4" y="106.3" font-size="4.5" fill="#2f4f88" font-weight="700" text-anchor="middle" textLength="8.7" lengthAdjust="spacingAndGlyphs" >38.7</text>
<text x="804.6" y="106.3" font-size="4.5" fill="#2f4f88" font-weight="700" text-anchor="middle" textLength="15.1" lengthAdjust="spacingAndGlyphs" >$35,641</text>
<text x="830" y="106.3" font-size="4.5" fill="#2f4f88" font-weight="700" text-anchor="middle" textLength="17.7" lengthAdjust="spacingAndGlyphs" >$254,472</text>
<text x="850.4" y="106.3" font-size="4.5" fill="#2f4f88" font-weight="700" text-anchor="middle" textLength="4.6" lengthAdjust="spacingAndGlyphs" >31</text>
<text x="870.7" y="106.3" font-size="4.5" fill="#2f4f88" font-weight="700" text-anchor="middle" textLength="4.6" lengthAdjust="spacingAndGlyphs" >59</text>
<text x="890.5" y="106.3" font-size="4.5" fill="#2f4f88" font-weight="700" text-anchor="middle" textLength="4.6" lengthAdjust="spacingAndGlyphs" >49</text>
<text x="721" y="111.7" font-size="2.9" fill="#8a8a8a" text-anchor="middle" >Population</text>
<text x="745.6" y="111.7" font-size="2.9" fill="#8a8a8a" text-anchor="middle" >Households</text>
<text x="766" y="111.7" font-size="2.9" fill="#8a8a8a" text-anchor="middle" >Avg Hse</text>
<text x="766" y="118.2" font-size="2.9" fill="#8a8a8a" text-anchor="middle" >Household</text>
<text x="783.4" y="111.7" font-size="2.9" fill="#8a8a8a" text-anchor="middle" >Median</text>
<text x="783.4" y="118.2" font-size="2.9" fill="#8a8a8a" text-anchor="middle" >Age</text>
<text x="804.6" y="111.7" font-size="2.9" fill="#8a8a8a" text-anchor="middle" >Median</text>
<text x="804.6" y="118.2" font-size="2.9" fill="#8a8a8a" text-anchor="middle" >Household Income</text>
<text x="830" y="111.7" font-size="2.9" fill="#8a8a8a" text-anchor="middle" >Median</text>
<text x="830" y="118.2" font-size="2.9" fill="#8a8a8a" text-anchor="middle" >Home Value</text>
<text x="850.4" y="111.7" font-size="2.9" fill="#8a8a8a" text-anchor="middle" >Wealth</text>
<text x="850.4" y="118.2" font-size="2.9" fill="#8a8a8a" text-anchor="middle" >Index</text>
<text x="870.7" y="111.7" font-size="2.9" fill="#8a8a8a" text-anchor="middle" >Housing</text>
<text x="890.5" y="111.7" font-size="2.9" fill="#8a8a8a" text-anchor="middle" >Diversity</text>
<text x="890.5" y="118.2" font-size="2.9" fill="#8a8a8a" text-anchor="middle" >Index</text>
<text x="870.7" y="114.6" font-size="2.9" fill="#8a8a8a" text-anchor="middle" >Affordability</text>
<text x="735" y="123.5" font-size="2.9" fill="#8a8a8a" textLength="36.5" lengthAdjust="spacingAndGlyphs" >Key Spending Facts (US Dollars) (2023)</text>
<path d="M723,142.3 L723,136.5 L728.5,131.8 L731,134 L731,132 L734.5,129.5 L739,133.5 L739,142.3 Z" fill="#2d4d82"/>
<rect x="731.5" y="137.5" width="7" height="4.5" fill="#8fa6cc" />
<rect x="725" y="138" width="1.4" height="1.4" fill="#ffffff" />
<rect x="727.3" y="138" width="1.4" height="1.4" fill="#ffffff" />
<rect x="733" y="134.5" width="1.3" height="1.3" fill="#ffffff" />
<rect x="735.3" y="134.5" width="1.3" height="1.3" fill="#ffffff" />
<text x="730.8" y="149.2" font-size="5.3" fill="#3b5b96" text-anchor="middle" textLength="16.1" lengthAdjust="spacingAndGlyphs" >$6,084</text>
<text x="730.8" y="153.4" font-size="2.7" fill="#8a8a8a" text-anchor="middle" textLength="31" lengthAdjust="spacingAndGlyphs" >Total Spent on Mortgage &amp;</text>
<text x="730.8" y="157" font-size="2.7" fill="#8a8a8a" text-anchor="middle" >Basics</text>
<path d="M771.6,140.4 L771.6,133 L774.5,130 L774.5,128.8 L775.6,128.8 L775.6,129.2 L776.6,128.4 L781.6,133 L781.6,140.4 Z" fill="#2d4d82"/>
<text x="776.5" y="135.8" font-size="3.5" fill="#ffffff" font-weight="700" text-anchor="middle" >$</text>
<text x="776.4" y="149.2" font-size="5.3" fill="#3b5b96" text-anchor="middle" textLength="14.9" lengthAdjust="spacingAndGlyphs" >41.7%</text>
<text x="776.4" y="153.4" font-size="2.7" fill="#8a8a8a" text-anchor="middle" textLength="25.3" lengthAdjust="spacingAndGlyphs" >Percent of Income for</text>
<text x="776.4" y="157" font-size="2.7" fill="#8a8a8a" text-anchor="middle" >Mortgage</text>
<rect x="808.3" y="122.2" width="93.5" height="3.9" fill="#2a76a2" />
<text x="855" y="125.2" font-size="2.6" fill="#ffffff" text-anchor="middle" textLength="40" lengthAdjust="spacingAndGlyphs" >Historical Growth: Population</text>
<line x1="810.5" y1="130.4" x2="900" y2="130.4" stroke="#ececec" stroke-width="0.4" />
<line x1="810.5" y1="136.5" x2="900" y2="136.5" stroke="#ececec" stroke-width="0.4" />
<line x1="810.5" y1="142.5" x2="900" y2="142.5" stroke="#ececec" stroke-width="0.4" />
<line x1="810.5" y1="148.6" x2="900" y2="148.6" stroke="#ececec" stroke-width="0.4" />
<line x1="810.5" y1="128.8" x2="810.5" y2="153.1" stroke="#9a9a9a" stroke-width="0.5" />
<line x1="810.5" y1="153.1" x2="900" y2="153.1" stroke="#9a9a9a" stroke-width="0.5" />
<text x="808.3" y="131.4" font-size="2.6" fill="#555" text-anchor="end" >27,700</text>
<text x="808.3" y="137.5" font-size="2.6" fill="#555" text-anchor="end" >27,600</text>
<text x="808.3" y="143.5" font-size="2.6" fill="#555" text-anchor="end" >27,500</text>
<text x="808.3" y="149.6" font-size="2.6" fill="#555" text-anchor="end" >27,400</text>
<path d="M810.5,129.4 L840.3,131.9 L869.6,136.6 L899.4,152" fill="none" stroke="#2f4f88" stroke-width="0.7"/>
<circle cx="810.5" cy="129.4" r="0.9" fill="#2f4f88" />
<circle cx="840.3" cy="131.9" r="0.9" fill="#2f4f88" />
<circle cx="869.6" cy="136.6" r="0.9" fill="#2f4f88" />
<circle cx="899.4" cy="152" r="0.9" fill="#2f4f88" />
<text transform="translate(811.5,156) rotate(-45)" font-size="2.8" fill="#666" text-anchor="end">2010</text>
<text transform="translate(841.3,156) rotate(-45)" font-size="2.8" fill="#666" text-anchor="end">2020</text>
<text transform="translate(870.6,156) rotate(-45)" font-size="2.8" fill="#666" text-anchor="end">2023</text>
<text transform="translate(900.4,156) rotate(-45)" font-size="2.8" fill="#666" text-anchor="end">2028</text>
<rect x="808.3" y="165" width="93.5" height="3.8" fill="#2d4d82" />
<text x="855" y="168" font-size="2.6" fill="#ffffff" text-anchor="middle" textLength="16" lengthAdjust="spacingAndGlyphs" >Home Value</text>
<line x1="813" y1="171" x2="904" y2="171" stroke="#dedede" stroke-width="0.4" />
<line x1="813" y1="176.3" x2="904" y2="176.3" stroke="#dedede" stroke-width="0.4" />
<line x1="813" y1="181.3" x2="904" y2="181.3" stroke="#dedede" stroke-width="0.4" />
<line x1="813" y1="186.5" x2="904" y2="186.5" stroke="#dedede" stroke-width="0.4" />
<line x1="813" y1="170" x2="813" y2="191.7" stroke="#9a9a9a" stroke-width="0.4" />
<line x1="813" y1="191.7" x2="904" y2="191.7" stroke="#9a9a9a" stroke-width="0.5" />
<text x="811" y="172" font-size="2.6" fill="#555" text-anchor="end" >20%</text>
<text x="811" y="177.3" font-size="2.6" fill="#555" text-anchor="end" >15%</text>
<text x="811" y="182.3" font-size="2.6" fill="#555" text-anchor="end" >10%</text>
<text x="811" y="187.5" font-size="2.6" fill="#555" text-anchor="end" >5%</text>
<text x="811" y="192.7" font-size="2.6" fill="#555" text-anchor="end" >0%</text>
<rect x="814.1" y="187.6" width="6" height="4.1" fill="#24709c" />
<text transform="translate(818.1,194) rotate(-45)" font-size="2.6" fill="#666" text-anchor="end">&lt;$50,000</text>
<rect x="822.3" y="181.5" width="6" height="10.2" fill="#24709c" />
<text transform="translate(826.3,194) rotate(-45)" font-size="2.6" fill="#666" text-anchor="end">$50,000</text>
<rect x="830.7" y="181.8" width="6" height="9.9" fill="#24709c" />
<text transform="translate(834.7,194) rotate(-45)" font-size="2.6" fill="#666" text-anchor="end">$100,000</text>
<rect x="839.2" y="183.7" width="6" height="8" fill="#24709c" />
<text transform="translate(843.2,194) rotate(-45)" font-size="2.6" fill="#666" text-anchor="end">$150,000</text>
<rect x="847.5" y="174.7" width="6" height="17" fill="#24709c" />
<text transform="translate(851.5,194) rotate(-45)" font-size="2.6" fill="#666" text-anchor="end">$200,000</text>
<rect x="856.1" y="175.2" width="6" height="16.5" fill="#24709c" />
<text transform="translate(860.1,194) rotate(-45)" font-size="2.6" fill="#666" text-anchor="end">$250,000</text>
<rect x="864.3" y="171.9" width="6" height="19.8" fill="#24709c" />
<text transform="translate(868.3,194) rotate(-45)" font-size="2.6" fill="#666" text-anchor="end">$300,000</text>
<rect x="872.9" y="180.2" width="6" height="11.5" fill="#24709c" />
<text transform="translate(876.9,194) rotate(-45)" font-size="2.6" fill="#666" text-anchor="end">$400,000</text>
<rect x="881.2" y="189" width="6" height="2.7" fill="#24709c" />
<text transform="translate(885.2,194) rotate(-45)" font-size="2.6" fill="#666" text-anchor="end">$500,000</text>
<rect x="889.7" y="191.2" width="6" height="0.5" fill="#24709c" />
<text transform="translate(893.7,194) rotate(-45)" font-size="2.6" fill="#666" text-anchor="end">$750,000</text>
<rect x="898" y="189.8" width="6" height="1.9" fill="#24709c" />
<text transform="translate(902,194) rotate(-45)" font-size="2.6" fill="#666" text-anchor="end">$1,000,000+</text>
<rect x="807.8" y="209" width="94.2" height="3.9" fill="#2a76a2" />
<text x="855" y="212" font-size="2.6" fill="#ffffff" text-anchor="middle" textLength="24" lengthAdjust="spacingAndGlyphs" >Housing: Year Built</text>
<line x1="818" y1="217.8" x2="903.4" y2="217.8" stroke="#dedede" stroke-width="0.4" />
<line x1="818" y1="222.4" x2="903.4" y2="222.4" stroke="#dedede" stroke-width="0.4" />
<line x1="818" y1="226.8" x2="903.4" y2="226.8" stroke="#dedede" stroke-width="0.4" />
<line x1="818" y1="231.2" x2="903.4" y2="231.2" stroke="#dedede" stroke-width="0.4" />
<line x1="818" y1="235.4" x2="903.4" y2="235.4" stroke="#dedede" stroke-width="0.4" />
<line x1="809" y1="239.7" x2="903.4" y2="239.7" stroke="#9a9a9a" stroke-width="0.5" />
<text x="808" y="218.8" font-size="2.6" fill="#555" text-anchor="end" >50%</text>
<text x="808" y="223.4" font-size="2.6" fill="#555" text-anchor="end" >40%</text>
<text x="808" y="227.8" font-size="2.6" fill="#555" text-anchor="end" >30%</text>
<text x="808" y="232.2" font-size="2.6" fill="#555" text-anchor="end" >20%</text>
<text x="808" y="236.4" font-size="2.6" fill="#555" text-anchor="end" >10%</text>
<text x="808" y="240.7" font-size="2.6" fill="#555" text-anchor="end" >0%</text>
<rect x="810.1" y="216.1" width="7.7" height="23.6" fill="#2b4f86" />
<rect x="819.8" y="234.7" width="7.2" height="5" fill="#2b4f86" />
<rect x="829.7" y="235" width="7.3" height="4.7" fill="#2b4f86" />
<rect x="839" y="236.8" width="7.6" height="2.9" fill="#2b4f86" />
<rect x="848.9" y="236.8" width="7.2" height="2.9" fill="#2b4f86" />
<rect x="858.4" y="237.4" width="7.3" height="2.3" fill="#2b4f86" />
<rect x="868" y="238.9" width="7.3" height="0.8" fill="#2b4f86" />
<rect x="877.6" y="238.2" width="7.4" height="1.5" fill="#2b4f86" />
<rect x="887.1" y="239.1" width="7.4" height="0.6" fill="#2b4f86" />
<text transform="translate(814,242.5) rotate(-45)" font-size="2.6" fill="#666" text-anchor="end">&lt;1939</text>
<text transform="translate(823.5,242.5) rotate(-45)" font-size="2.6" fill="#666" text-anchor="end">1940-49</text>
<text transform="translate(833,242.5) rotate(-45)" font-size="2.6" fill="#666" text-anchor="end">1950-59</text>
<text transform="translate(842.5,242.5) rotate(-45)" font-size="2.6" fill="#666" text-anchor="end">1960-69</text>
<text transform="translate(852,242.5) rotate(-45)" font-size="2.6" fill="#666" text-anchor="end">1970-79</text>
<text transform="translate(861.5,242.5) rotate(-45)" font-size="2.6" fill="#666" text-anchor="end">1980-89</text>
<text transform="translate(871,242.5) rotate(-45)" font-size="2.6" fill="#666" text-anchor="end">1990-99</text>
<text transform="translate(880.5,242.5) rotate(-45)" font-size="2.6" fill="#666" text-anchor="end">2000-09</text>
<text transform="translate(890,242.5) rotate(-45)" font-size="2.6" fill="#666" text-anchor="end">2010-19</text>
<text transform="translate(899.5,242.5) rotate(-45)" font-size="2.6" fill="#666" text-anchor="end">&gt;2020</text>
<text x="661.8" y="166.3" font-size="3.2" fill="#8a8a8a" text-anchor="middle" textLength="30.8" lengthAdjust="spacingAndGlyphs" >POPULATION BY AGE</text>
<rect x="616.7" y="169.6" width="8.9" height="9.1" fill="#2d4d82" />
<rect x="626.8" y="169.6" width="8.9" height="9.1" fill="#2d4d82" />
<rect x="636.9" y="169.6" width="8.9" height="9.1" fill="#2d4d82" />
<rect x="647" y="169.6" width="8.9" height="9.1" fill="#2d4d82" />
<rect x="657.1" y="169.6" width="8.9" height="9.1" fill="#2d4d82" />
<rect x="667.2" y="169.6" width="8.9" height="9.1" fill="#2d4d82" />
<rect x="677.3" y="169.6" width="8.9" height="9.1" fill="#2d4d82" />
<rect x="687.4" y="169.6" width="8.9" height="9.1" fill="#2d4d82" />
<rect x="697.5" y="169.6" width="8.9" height="9.1" fill="#2d4d82" />
<rect x="616.7" y="179.85" width="8.9" height="9.1" fill="#2a76a2" />
<rect x="616.7" y="179.85" width="5.6" height="9.1" fill="#2d4d82" />
<rect x="626.8" y="179.85" width="8.9" height="9.1" fill="#2a76a2" />
<rect x="636.9" y="179.85" width="8.9" height="9.1" fill="#2a76a2" />
<rect x="647" y="179.85" width="8.9" height="9.1" fill="#2a76a2" />
<rect x="657.1" y="179.85" width="8.9" height="9.1" fill="#2a76a2" />
<rect x="667.2" y="179.85" width="8.9" height="9.1" fill="#2a76a2" />
<rect x="677.3" y="179.85" width="8.9" height="9.1" fill="#2a76a2" />
<rect x="687.4" y="179.85" width="8.9" height="9.1" fill="#2a76a2" />
<rect x="697.5" y="179.85" width="8.9" height="9.1" fill="#2a76a2" />
<rect x="616.7" y="190.1" width="8.9" height="9.1" fill="#2a76a2" />
<rect x="626.8" y="190.1" width="8.9" height="9.1" fill="#2a76a2" />
<rect x="636.9" y="190.1" width="8.9" height="9.1" fill="#2a76a2" />
<rect x="647" y="190.1" width="8.9" height="9.1" fill="#2a76a2" />
<rect x="657.1" y="190.1" width="8.9" height="9.1" fill="#2a76a2" />
<rect x="667.2" y="190.1" width="8.9" height="9.1" fill="#2a76a2" />
<rect x="677.3" y="190.1" width="8.9" height="9.1" fill="#2a76a2" />
<rect x="687.4" y="190.1" width="8.9" height="9.1" fill="#2a76a2" />
<rect x="697.5" y="190.1" width="8.9" height="9.1" fill="#2a76a2" />
<rect x="616.7" y="200.35" width="8.9" height="9.1" fill="#2a76a2" />
<rect x="626.8" y="200.35" width="8.9" height="9.1" fill="#2a76a2" />
<rect x="636.9" y="200.35" width="8.9" height="9.1" fill="#2a76a2" />
<rect x="647" y="200.35" width="8.9" height="9.1" fill="#2a76a2" />
<rect x="657.1" y="200.35" width="8.9" height="9.1" fill="#2a76a2" />
<rect x="667.2" y="200.35" width="8.9" height="9.1" fill="#2a76a2" />
<rect x="677.3" y="200.35" width="8.9" height="9.1" fill="#2a76a2" />
<rect x="687.4" y="200.35" width="8.9" height="9.1" fill="#2a76a2" />
<rect x="697.5" y="200.35" width="8.9" height="9.1" fill="#2a76a2" />
<rect x="616.7" y="210.6" width="8.9" height="9.1" fill="#2a76a2" />
<rect x="626.8" y="210.6" width="8.9" height="9.1" fill="#c8c8c8" />
<rect x="636.9" y="210.6" width="8.9" height="9.1" fill="#c8c8c8" />
<rect x="647" y="210.6" width="8.9" height="9.1" fill="#c8c8c8" />
<rect x="657.1" y="210.6" width="8.9" height="9.1" fill="#c8c8c8" />
<rect x="667.2" y="210.6" width="8.9" height="9.1" fill="#c8c8c8" />
<rect x="677.3" y="210.6" width="8.9" height="9.1" fill="#c8c8c8" />
<rect x="687.4" y="210.6" width="8.9" height="9.1" fill="#c8c8c8" />
<rect x="697.5" y="210.6" width="8.9" height="9.1" fill="#c8c8c8" />
<rect x="629.5" y="225.3" width="2" height="2" fill="#2d4d82" />
<text x="632.2" y="227.2" font-size="2.7" fill="#8a8a8a" >Under 18</text>
<text x="652" y="227.2" font-size="2.7" fill="#8a8a8a" >(19.1%)</text>
<rect x="664.5" y="225.3" width="2" height="2" fill="#2a76a2" />
<text x="667.5" y="227.2" font-size="2.7" fill="#8a8a8a" >Ages 18 to 64</text>
<text x="688" y="227.2" font-size="2.7" fill="#8a8a8a" >(60.7%)</text>
<rect x="629.5" y="229.7" width="2" height="2" fill="#c8c8c8" />
<text x="632.2" y="231.6" font-size="2.7" fill="#8a8a8a" >Aged 65+</text>
<text x="652" y="231.6" font-size="2.7" fill="#8a8a8a" >(18.0%)</text>
<text x="753.3" y="165.8" font-size="2.8" fill="#8a8a8a" text-anchor="middle" textLength="44.2" lengthAdjust="spacingAndGlyphs" >Population by Generation (2023)</text>
<circle cx="721.3" cy="172.5" r="1.9" fill="#2d4d82" />
<path d="M718.3,183 L718.3,177 Q718.3,175 720.3,175 L722.5,175 Q724.3,175 724.3,177 L724.3,183 Z" fill="#2d4d82"/>
<text x="723.5" y="183.5" font-size="6" fill="#2d4d82" >G</text>
<text x="723.2" y="192.1" font-size="5.7" fill="#52679b" text-anchor="middle" >5.1%</text>
<text x="723.3" y="196.5" font-size="2.7" fill="#8a8a8a" text-anchor="middle" >Greatest Gen.</text>
<text x="723.3" y="203" font-size="2.7" fill="#8a8a8a" text-anchor="middle" >Born 1945/Earlier</text>
<circle cx="751.3" cy="172.5" r="1.9" fill="#2a76a2" />
<path d="M748.3,183 L748.3,177 Q748.3,175 750.3,175 L752.5,175 Q754.3,175 754.3,177 L754.3,183 Z" fill="#2a76a2"/>
<text x="753.5" y="183.5" font-size="6" fill="#2a76a2" >B</text>
<text x="753.2" y="192.1" font-size="5.7" fill="#52679b" text-anchor="middle" >20.8%</text>
<text x="753.3" y="196.5" font-size="2.7" fill="#8a8a8a" text-anchor="middle" >Baby Boomer</text>
<text x="753.3" y="203" font-size="2.7" fill="#8a8a8a" text-anchor="middle" >Born 1946 to 1964</text>
<circle cx="781.3" cy="172" r="1.9" fill="#2d4d82" />
<path d="M778.3,182.5 L778.3,176.5 Q778.3,174.5 780.3,174.5 L782.5,174.5 Q784.3,174.5 784.3,176.5 L784.3,182.5 Z" fill="#2d4d82"/>
<text x="783.5" y="183" font-size="6" fill="#2d4d82" >X</text>
<text x="783.2" y="191.6" font-size="5.7" fill="#52679b" text-anchor="middle" >18.7%</text>
<text x="783.3" y="196" font-size="2.7" fill="#8a8a8a" text-anchor="middle" >Generation X</text>
<text x="783.3" y="202.5" font-size="2.7" fill="#8a8a8a" text-anchor="middle" >Born 1965 to 1980</text>
<circle cx="721.3" cy="209.2" r="1.9" fill="#2a76a2" />
<path d="M718.3,219.7 L718.3,213.7 Q718.3,211.7 720.3,211.7 L722.5,211.7 Q724.3,211.7 724.3,213.7 L724.3,219.7 Z" fill="#2a76a2"/>
<text x="723.5" y="220.2" font-size="6" fill="#2a76a2" >M</text>
<text x="723.2" y="228.8" font-size="5.7" fill="#52679b" text-anchor="middle" >24.7%</text>
<text x="723.3" y="233.2" font-size="2.7" fill="#8a8a8a" text-anchor="middle" >Millennial</text>
<text x="723.3" y="239.7" font-size="2.7" fill="#8a8a8a" text-anchor="middle" >Born 1981 to 1998</text>
<circle cx="751" cy="208.7" r="1.9" fill="#2d4d82" />
<path d="M748,219.2 L748,213.2 Q748,211.2 750,211.2 L752.2,211.2 Q754,211.2 754,213.2 L754,219.2 Z" fill="#2d4d82"/>
<text x="753.2" y="219.7" font-size="6" fill="#2d4d82" >Z</text>
<text x="752.9" y="228.3" font-size="5.7" fill="#52679b" text-anchor="middle" >22.2%</text>
<text x="753" y="232.7" font-size="2.7" fill="#8a8a8a" text-anchor="middle" >Generation Z</text>
<text x="753" y="239.2" font-size="2.7" fill="#8a8a8a" text-anchor="middle" >Born 1999 to 2016</text>
<circle cx="781.3" cy="209.2" r="1.9" fill="#2a76a2" />
<path d="M778.3,219.7 L778.3,213.7 Q778.3,211.7 780.3,211.7 L782.5,211.7 Q784.3,211.7 784.3,213.7 L784.3,219.7 Z" fill="#2a76a2"/>
<text x="783.5" y="220.2" font-size="6" fill="#2a76a2" >A</text>
<text x="783.2" y="228.8" font-size="5.7" fill="#52679b" text-anchor="middle" >8.6%</text>
<text x="783.3" y="233.2" font-size="2.7" fill="#8a8a8a" text-anchor="middle" >Alpha Gen.</text>
<text x="783.3" y="239.7" font-size="2.7" fill="#8a8a8a" text-anchor="middle" >2017 to Present</text>
<circle cx="619.3" cy="243.9" r="2.6" fill="#222" />
<path d="M618,242.4 Q619,241.8 619.5,242.8 Q619,244 620,244.8 L619.4,246 Q618.4,245 618,244 Z" fill="#fff"/>
<text x="622.4" y="245.7" font-size="6.5" fill="#222" font-weight="700" textLength="11" lengthAdjust="spacingAndGlyphs" >esri</text>
<rect x="635.4" y="241.6" width="1.2" height="4.8" fill="#666" />
<text x="637.2" y="243.3" font-size="1.6" fill="#555" >THE</text>
<text x="637.2" y="245.5" font-size="1.6" fill="#555" >SCIENCE</text>
<text x="645.9" y="241.8" font-size="2.6" fill="#444" textLength="56.2" lengthAdjust="spacingAndGlyphs" >Source: This infographic contains data provided by Esri</text>
<text x="645.9" y="244.4" font-size="2.6" fill="#444" textLength="48" lengthAdjust="spacingAndGlyphs" >(2023, 2028), Esri-U.S. BLS (2023), ACS (2017-2021)</text>
<text x="645.9" y="247" font-size="2.6" fill="#444" textLength="15" lengthAdjust="spacingAndGlyphs" >Esri (2020).</text>
<text x="614.6" y="256.4" font-size="2.8" fill="#888" textLength="139" lengthAdjust="spacingAndGlyphs" >Source: This infographic contains data provided by Esri (2023, 2028), Esri-U.S. BLS (2023), ACS (2017-2021), Esri (2020).</text>
<text x="618.2" y="281.9" font-size="6.3" fill="#555555" textLength="78.7" lengthAdjust="spacingAndGlyphs" >Housing Market Characteristics</text>
<text x="618.2" y="288.3" font-size="3.2" fill="#555555" textLength="10.5" lengthAdjust="spacingAndGlyphs" >Polygon</text>
<text x="618.2" y="294" font-size="3.2" fill="#555555" textLength="33" lengthAdjust="spacingAndGlyphs" >Area: 1.96 square miles</text>
<text x="899" y="287.4" font-size="3.2" fill="#555555" text-anchor="end" textLength="21" lengthAdjust="spacingAndGlyphs" >Prepared by Esri</text>
<polygon points="615,304 899.8,304 899.8,306.7 740,306.7 734.4,311.7 723.3,311.7 707.2,323.9 706.5,335.9 695.5,345.9 671.5,345.9 666.3,350.4 615,350.4" fill="#6b2841" />
<rect x="618" y="307.6" width="80.5" height="1.5" fill="#b7878f" />
<polygon points="742.5,310.3 880,310.3 880,312.1 741,312.1" fill="#6b2841" />
<polygon points="875.5,306.6 899.8,306.6 899.8,316.6 893.2,316.6 887.3,312.1 878,312.1 872.5,309.8" fill="#6b2841" />
<polygon points="674,348.6 721.3,348.6 718.3,353 669,353" fill="#6b2841" />
<polygon points="725.8,348.6 733.3,348.6 730,353 722,353" fill="#6b2841" />
<rect x="615" y="352.7" width="104" height="1.2" fill="#6b2841" />
<rect x="745" y="349" width="155" height="0.9" fill="#6b2841" />
<text x="618.6" y="321.1" font-size="8.8" fill="#ffffff" font-weight="700" textLength="63.7" lengthAdjust="spacingAndGlyphs" >Housing Market</text>
<text x="618.6" y="330" font-size="8.8" fill="#ffffff" font-weight="700" textLength="57.8" lengthAdjust="spacingAndGlyphs" >Characteristics</text>
<text x="618.6" y="338.9" font-size="4" fill="#ffffff" textLength="12.5" lengthAdjust="spacingAndGlyphs" >Polygon</text>
<text x="618.6" y="343.6" font-size="4" fill="#ffffff" textLength="40" lengthAdjust="spacingAndGlyphs" >Area: 1.96 square miles</text>
<path d="M713.3,332.8 L713.3,325 L717.5,321 L719.5,323 L719.5,322 L725.5,317 L732.2,323.5 L732.2,332.8 Z" fill="#6b2841"/>
<rect x="723" y="326.5" width="9.5" height="5.5" fill="#a66a7c" />
<rect x="724.5" y="327.8" width="6.5" height="1" fill="#f0e0e0" />
<rect x="715.2" y="327" width="1.2" height="1.2" fill="#faf2e3" />
<rect x="717.3" y="327" width="1.2" height="1.2" fill="#faf2e3" />
<rect x="722.5" y="322.5" width="1.2" height="1.2" fill="#faf2e3" />
<rect x="725" y="322.5" width="1.2" height="1.2" fill="#faf2e3" />
<rect x="727.5" y="322.5" width="1.2" height="1.2" fill="#faf2e3" />
<text x="733.9" y="323.9" font-size="6.4" fill="#3a3a3a" font-weight="700" textLength="29.4" lengthAdjust="spacingAndGlyphs" >$254,472</text>
<text x="765.5" y="323.9" font-size="4.5" fill="#3a3a3a" >↓</text>
<text x="734.5" y="330.6" font-size="3.4" fill="#8a8a8a" textLength="32.7" lengthAdjust="spacingAndGlyphs" >Median Home Value</text>
<text x="713.3" y="340.2" font-size="3.4" fill="#555555" textLength="55.6" lengthAdjust="spacingAndGlyphs" >2% lower than Pennsylvania which</text>
<text x="741" y="344.4" font-size="3.4" fill="#555555" text-anchor="middle" textLength="16" lengthAdjust="spacingAndGlyphs" >is $380,402</text>
<ellipse cx="795.9" cy="321.5" rx="5.9" ry="5" fill="#6b2841"/>
<path d="M791,321 Q796,319 801,321" stroke="#faf2e3" stroke-width="0.6" fill="none"/>
<path d="M792,324 Q796,322.5 800,324" stroke="#faf2e3" stroke-width="0.6" fill="none"/>
<path d="M832.3,318.3 L843,320.6 L841.9,326.9 L831.3,324.6 Z" fill="#faf2e3" stroke="#6b2841" stroke-width="1.5" stroke-linejoin="round"/>
<path d="M832.3,318.3 L836,319.1 L835,325.4 L831.3,324.6 Z" fill="#6b2841"/>
<rect x="837.3" y="321.3" width="3" height="3.3" fill="none" stroke="#6b2841" stroke-width="0.7"/>
<circle cx="828.6" cy="319.6" r="2.4" fill="none" stroke="#6b2841" stroke-width="1"/>
<path d="M867,328 L867,321.5 L875,316.4 L883,321.5 L883,328 Z" fill="#6b2841"/>
<ellipse cx="877.8" cy="321.8" rx="2.1" ry="2.6" fill="#faf2e3"/>
<ellipse cx="877.8" cy="321.8" rx="0.9" ry="1.6" fill="#a66a7c"/>
<path d="M868.7,326.8 Q871,323.3 874.5,325 L880.5,325.3 Q879,326.6 875,326.7 Z" fill="#faf2e3"/>
<text x="795.5" y="335.5" font-size="5.6" fill="#3a3a3a" font-weight="700" text-anchor="middle" >59</text>
<text x="795.5" y="341" font-size="3.3" fill="#8a8a8a" text-anchor="middle" textLength="29" lengthAdjust="spacingAndGlyphs" >Housing Affordability</text>
<text x="795.5" y="345.2" font-size="3.3" fill="#8a8a8a" text-anchor="middle" textLength="7.5" lengthAdjust="spacingAndGlyphs" >Index</text>
<text x="834.6" y="335.5" font-size="5.6" fill="#3a3a3a" font-weight="700" text-anchor="middle" >41.7%</text>
<text x="834.6" y="341" font-size="3.3" fill="#8a8a8a" text-anchor="middle" textLength="29" lengthAdjust="spacingAndGlyphs" >Percent of Income</text>
<text x="834.6" y="345.2" font-size="3.3" fill="#8a8a8a" text-anchor="middle" textLength="19" lengthAdjust="spacingAndGlyphs" >for Mortgage</text>
<text x="874.9" y="335.5" font-size="5.6" fill="#3a3a3a" font-weight="700" text-anchor="middle" >162</text>
<text x="874.9" y="341" font-size="3.3" fill="#8a8a8a" text-anchor="middle" textLength="34" lengthAdjust="spacingAndGlyphs" >Percent of Income for</text>
<text x="874.9" y="345.2" font-size="3.3" fill="#8a8a8a" text-anchor="middle" textLength="27" lengthAdjust="spacingAndGlyphs" >Mortgage (Index)</text>
<text x="617.5" y="358.4" font-size="3.3" fill="#8a8a8a" textLength="10.5" lengthAdjust="spacingAndGlyphs" >Age &lt;18:</text>
<text x="630.5" y="358.6" font-size="5.2" fill="#3a3a3a" font-weight="700" textLength="12.3" lengthAdjust="spacingAndGlyphs" >5,868</text>
<text x="657.3" y="358.4" font-size="3.3" fill="#8a8a8a" textLength="13.5" lengthAdjust="spacingAndGlyphs" >Age 18-64:</text>
<text x="673.3" y="358.6" font-size="5.2" fill="#3a3a3a" font-weight="700" textLength="15" lengthAdjust="spacingAndGlyphs" >14,691</text>
<text x="701.8" y="358.4" font-size="3.3" fill="#8a8a8a" textLength="11" lengthAdjust="spacingAndGlyphs" >Age 65+:</text>
<text x="715.3" y="358.6" font-size="5.2" fill="#3a3a3a" font-weight="700" textLength="11.7" lengthAdjust="spacingAndGlyphs" >4,962</text>
<text x="758.3" y="353.9" font-size="3.4" fill="#8a8a8a" text-anchor="middle" >Total Pop</text>
<text x="758.3" y="359.2" font-size="4.9" fill="#3a3a3a" font-weight="700" text-anchor="middle" >27,521</text>
<text x="794" y="353.9" font-size="3.4" fill="#8a8a8a" text-anchor="middle" >Pop Growth</text>
<text x="794" y="359.2" font-size="4.9" fill="#3a3a3a" font-weight="700" text-anchor="middle" >-0.19%</text>
<text x="836.4" y="353.9" font-size="3.4" fill="#8a8a8a" text-anchor="middle" >Average HH Size</text>
<text x="836.4" y="359.2" font-size="4.9" fill="#3a3a3a" font-weight="700" text-anchor="middle" >2.09</text>
<text x="879.9" y="353.9" font-size="3.4" fill="#8a8a8a" text-anchor="middle" >Median Net Worth</text>
<text x="879.9" y="359.2" font-size="4.9" fill="#3a3a3a" font-weight="700" text-anchor="middle" >$13,430</text>
<polygon points="615,362.3 732.3,362.3 743.3,370.4 639.3,370.4 632.2,365.4 615,365.4" fill="#6b2841" />
<rect x="743" y="369.6" width="30" height="0.9" fill="#6b2841" />
<text x="684.6" y="369.2" font-size="8" fill="#ffffff" font-weight="700" text-anchor="middle" textLength="40.2" lengthAdjust="spacingAndGlyphs" >Home Value</text>
<polygon points="778.8,362.2 899.7,362.2 899.7,370.5 770.5,370.5" fill="#6b2841" />
<text x="830.6" y="369.2" font-size="8" fill="#ffffff" font-weight="700" text-anchor="middle" textLength="57" lengthAdjust="spacingAndGlyphs" >Household Income</text>
<line x1="634.7" y1="375.8" x2="747.2" y2="375.8" stroke="#e6ddcc" stroke-width="0.5" />
<line x1="634.7" y1="380.25" x2="747.2" y2="380.25" stroke="#e6ddcc" stroke-width="0.5" />
<line x1="634.7" y1="384.7" x2="747.2" y2="384.7" stroke="#e6ddcc" stroke-width="0.5" />
<line x1="634.7" y1="389.15" x2="747.2" y2="389.15" stroke="#e6ddcc" stroke-width="0.5" />
<line x1="634.7" y1="393.6" x2="747.2" y2="393.6" stroke="#e6ddcc" stroke-width="0.5" />
<line x1="634.7" y1="398.05" x2="747.2" y2="398.05" stroke="#e6ddcc" stroke-width="0.5" />
<line x1="634.7" y1="402.5" x2="747.2" y2="402.5" stroke="#e6ddcc" stroke-width="0.5" />
<line x1="634.7" y1="406.95" x2="747.2" y2="406.95" stroke="#e6ddcc" stroke-width="0.5" />
<line x1="634.7" y1="411.4" x2="747.2" y2="411.4" stroke="#e6ddcc" stroke-width="0.5" />
<line x1="634.7" y1="415.85" x2="747.2" y2="415.85" stroke="#e6ddcc" stroke-width="0.5" />
<line x1="634.7" y1="420.3" x2="747.2" y2="420.3" stroke="#b9ad9a" stroke-width="0.5" />
<line x1="634.7" y1="374.8" x2="634.7" y2="420.3" stroke="#b9ad9a" stroke-width="0.4" />
<text x="633.5" y="376.8" font-size="2.9" fill="#555" text-anchor="end" >20%</text>
<text x="633.5" y="381.25" font-size="2.9" fill="#555" text-anchor="end" >18%</text>
<text x="633.5" y="385.7" font-size="2.9" fill="#555" text-anchor="end" >16%</text>
<text x="633.5" y="390.15" font-size="2.9" fill="#555" text-anchor="end" >14%</text>
<text x="633.5" y="394.6" font-size="2.9" fill="#555" text-anchor="end" >12%</text>
<text x="633.5" y="399.05" font-size="2.9" fill="#555" text-anchor="end" >10%</text>
<text x="633.5" y="403.5" font-size="2.9" fill="#555" text-anchor="end" >8%</text>
<text x="633.5" y="407.95" font-size="2.9" fill="#555" text-anchor="end" >6%</text>
<text x="633.5" y="412.4" font-size="2.9" fill="#555" text-anchor="end" >4%</text>
<text x="633.5" y="416.85" font-size="2.9" fill="#555" text-anchor="end" >2%</text>
<text x="633.5" y="421.3" font-size="2.9" fill="#555" text-anchor="end" >0%</text>
<rect x="636.7" y="410.8" width="7.1" height="9.5" fill="#6b2841" />
<rect x="645.2" y="397" width="7" height="23.3" fill="#6b2841" />
<rect x="653.8" y="397.5" width="7.2" height="22.8" fill="#6b2841" />
<rect x="662.5" y="401.7" width="7.2" height="18.6" fill="#6b2841" />
<rect x="671" y="380.8" width="7" height="39.5" fill="#6b2841" />
<rect x="680" y="382.5" width="7" height="37.8" fill="#6b2841" />
<rect x="688.3" y="374.7" width="7.2" height="45.6" fill="#6b2841" />
<rect x="696.8" y="393.8" width="7" height="26.5" fill="#6b2841" />
<rect x="705.5" y="414.7" width="7.2" height="5.6" fill="#6b2841" />
<rect x="714.3" y="419.4" width="7" height="0.9" fill="#6b2841" />
<rect x="722.7" y="415.8" width="7.3" height="4.5" fill="#6b2841" />
<rect x="731.3" y="419.8" width="7.5" height="0.5" fill="#6b2841" />
<text transform="translate(642,423.3) rotate(-45)" font-size="3.1" fill="#666" text-anchor="end">&lt;$50,000</text>
<text transform="translate(650.6,423.3) rotate(-45)" font-size="3.1" fill="#666" text-anchor="end">$50,000</text>
<text transform="translate(659.2,423.3) rotate(-45)" font-size="3.1" fill="#666" text-anchor="end">$100,000</text>
<text transform="translate(667.8,423.3) rotate(-45)" font-size="3.1" fill="#666" text-anchor="end">$150,000</text>
<text transform="translate(676.4,423.3) rotate(-45)" font-size="3.1" fill="#666" text-anchor="end">$200,000</text>
<text transform="translate(685,423.3) rotate(-45)" font-size="3.1" fill="#666" text-anchor="end">$250,000</text>
<text transform="translate(693.6,423.3) rotate(-45)" font-size="3.1" fill="#666" text-anchor="end">$300,000</text>
<text transform="translate(702.2,423.3) rotate(-45)" font-size="3.1" fill="#666" text-anchor="end">$400,000</text>
<text transform="translate(710.8,423.3) rotate(-45)" font-size="3.1" fill="#666" text-anchor="end">$500,000</text>
<text transform="translate(719.4,423.3) rotate(-45)" font-size="3.1" fill="#666" text-anchor="end">$750,000</text>
<text transform="translate(728,423.3) rotate(-45)" font-size="3.1" fill="#666" text-anchor="end">$1,000,000</text>
<text transform="translate(736.6,423.3) rotate(-45)" font-size="3.1" fill="#666" text-anchor="end">$1,500,000+</text>
<text transform="translate(623.8,398.05) rotate(-90)" font-size="3.1" fill="#666" text-anchor="middle">Percent of Homes</text>
<line x1="779.7" y1="374.5" x2="896" y2="374.5" stroke="#e6ddcc" stroke-width="0.5" />
<line x1="779.7" y1="383.42" x2="896" y2="383.42" stroke="#e6ddcc" stroke-width="0.5" />
<line x1="779.7" y1="392.33" x2="896" y2="392.33" stroke="#e6ddcc" stroke-width="0.5" />
<line x1="779.7" y1="401.25" x2="896" y2="401.25" stroke="#e6ddcc" stroke-width="0.5" />
<line x1="779.7" y1="410.17" x2="896" y2="410.17" stroke="#e6ddcc" stroke-width="0.5" />
<line x1="779.7" y1="419.08" x2="896" y2="419.08" stroke="#e6ddcc" stroke-width="0.5" />
<line x1="779.7" y1="428" x2="896" y2="428" stroke="#b9ad9a" stroke-width="0.5" />
<line x1="779.7" y1="373.5" x2="779.7" y2="428" stroke="#b9ad9a" stroke-width="0.4" />
<text x="778.5" y="375.5" font-size="2.9" fill="#555" text-anchor="end" >30%</text>
<text x="778.5" y="384.42" font-size="2.9" fill="#555" text-anchor="end" >25%</text>
<text x="778.5" y="393.33" font-size="2.9" fill="#555" text-anchor="end" >20%</text>
<text x="778.5" y="402.25" font-size="2.9" fill="#555" text-anchor="end" >15%</text>
<text x="778.5" y="411.17" font-size="2.9" fill="#555" text-anchor="end" >10%</text>
<text x="778.5" y="420.08" font-size="2.9" fill="#555" text-anchor="end" >5%</text>
<text x="778.5" y="429" font-size="2.9" fill="#555" text-anchor="end" >0%</text>
<rect x="781" y="374.5" width="11.2" height="53.5" fill="#6b2841" />
<rect x="793.8" y="410.8" width="11.2" height="17.2" fill="#6b2841" />
<rect x="806.7" y="412" width="11.3" height="16" fill="#6b2841" />
<rect x="819.7" y="411.3" width="11.1" height="16.7" fill="#6b2841" />
<rect x="832.5" y="405.8" width="11.3" height="22.2" fill="#6b2841" />
<rect x="845.5" y="410" width="11.2" height="18" fill="#6b2841" />
<rect x="858.3" y="407.5" width="11.4" height="20.5" fill="#6b2841" />
<rect x="871.3" y="420.3" width="11.4" height="7.7" fill="#6b2841" />
<rect x="884.2" y="421.7" width="11.3" height="6.3" fill="#6b2841" />
<text transform="translate(789,431) rotate(-45)" font-size="3.1" fill="#666" text-anchor="end">&lt;$15,000</text>
<text transform="translate(801.9,431) rotate(-45)" font-size="3.1" fill="#666" text-anchor="end">$15,000</text>
<text transform="translate(814.8,431) rotate(-45)" font-size="3.1" fill="#666" text-anchor="end">$25,000</text>
<text transform="translate(827.7,431) rotate(-45)" font-size="3.1" fill="#666" text-anchor="end">$35,000</text>
<text transform="translate(840.6,431) rotate(-45)" font-size="3.1" fill="#666" text-anchor="end">$50,000</text>
<text transform="translate(853.5,431) rotate(-45)" font-size="3.1" fill="#666" text-anchor="end">$75,000</text>
<text transform="translate(866.4,431) rotate(-45)" font-size="3.1" fill="#666" text-anchor="end">$100,000</text>
<text transform="translate(879.3,431) rotate(-45)" font-size="3.1" fill="#666" text-anchor="end">$150,000</text>
<text transform="translate(892.2,431) rotate(-45)" font-size="3.1" fill="#666" text-anchor="end">$200,000+</text>
<text transform="translate(767,401.25) rotate(-90)" font-size="3.1" fill="#666" text-anchor="middle">Percent of Households</text>
<path d="M615,432 L622.2,432 L630.8,439.8 M737,439.8 L741.7,439.8 L756.5,453 L756.5,511.8 L645.8,511.8 L636.7,504.2 L628.3,504.2 L622.5,498.3 L622.5,451" fill="none" stroke="#6b2841" stroke-width="2"/>
<polygon points="628.4,438.8 737,438.8 726,449.7 640.1,449.7" fill="#6b2841" />
<path d="M615,449.4 L621.5,449.4 Q623.7,449.4 623.7,451.6 L623.7,452.6 L615,452.6 Z" fill="#6b2841"/>
<text x="688" y="447.6" font-size="8" fill="#ffffff" font-weight="700" text-anchor="middle" textLength="66.4" lengthAdjust="spacingAndGlyphs" >Mortgage as % Salary</text>
<line x1="640.6" y1="452.5" x2="746" y2="452.5" stroke="#e6ddcc" stroke-width="0.5" />
<line x1="640.6" y1="456.81" x2="746" y2="456.81" stroke="#e6ddcc" stroke-width="0.5" />
<line x1="640.6" y1="461.12" x2="746" y2="461.12" stroke="#e6ddcc" stroke-width="0.5" />
<line x1="640.6" y1="465.43" x2="746" y2="465.43" stroke="#e6ddcc" stroke-width="0.5" />
<line x1="640.6" y1="469.73" x2="746" y2="469.73" stroke="#e6ddcc" stroke-width="0.5" />
<line x1="640.6" y1="474.04" x2="746" y2="474.04" stroke="#e6ddcc" stroke-width="0.5" />
<line x1="640.6" y1="478.35" x2="746" y2="478.35" stroke="#e6ddcc" stroke-width="0.5" />
<line x1="640.6" y1="482.66" x2="746" y2="482.66" stroke="#e6ddcc" stroke-width="0.5" />
<line x1="640.6" y1="486.97" x2="746" y2="486.97" stroke="#e6ddcc" stroke-width="0.5" />
<line x1="640.6" y1="491.27" x2="746" y2="491.27" stroke="#e6ddcc" stroke-width="0.5" />
<line x1="640.6" y1="495.58" x2="746" y2="495.58" stroke="#e6ddcc" stroke-width="0.5" />
<line x1="640.6" y1="499.89" x2="746" y2="499.89" stroke="#e6ddcc" stroke-width="0.5" />
<line x1="640.6" y1="504.2" x2="746" y2="504.2" stroke="#b9ad9a" stroke-width="0.5" />
<line x1="640.6" y1="451.5" x2="640.6" y2="504.2" stroke="#b9ad9a" stroke-width="0.4" />
<text x="639.4" y="453.5" font-size="2.9" fill="#555" text-anchor="end" >60%</text>
<text x="639.4" y="457.81" font-size="2.9" fill="#555" text-anchor="end" >55%</text>
<text x="639.4" y="462.12" font-size="2.9" fill="#555" text-anchor="end" >50%</text>
<text x="639.4" y="466.43" font-size="2.9" fill="#555" text-anchor="end" >45%</text>
<text x="639.4" y="470.73" font-size="2.9" fill="#555" text-anchor="end" >40%</text>
<text x="639.4" y="475.04" font-size="2.9" fill="#555" text-anchor="end" >35%</text>
<text x="639.4" y="479.35" font-size="2.9" fill="#555" text-anchor="end" >30%</text>
<text x="639.4" y="483.66" font-size="2.9" fill="#555" text-anchor="end" >25%</text>
<text x="639.4" y="487.97" font-size="2.9" fill="#555" text-anchor="end" >20%</text>
<text x="639.4" y="492.27" font-size="2.9" fill="#555" text-anchor="end" >15%</text>
<text x="639.4" y="496.58" font-size="2.9" fill="#555" text-anchor="end" >10%</text>
<text x="639.4" y="500.89" font-size="2.9" fill="#555" text-anchor="end" >5%</text>
<text x="639.4" y="505.2" font-size="2.9" fill="#555" text-anchor="end" >0%</text>
<rect x="642.7" y="482.1" width="9.2" height="22.1" fill="#6b2841" />
<rect x="653.9" y="460.1" width="9.6" height="44.1" fill="#6b2841" />
<rect x="665.1" y="452.1" width="9.8" height="52.1" fill="#6b2841" />
<rect x="676.8" y="466.4" width="9.4" height="37.8" fill="#6b2841" />
<rect x="688.2" y="475" width="9.6" height="29.2" fill="#6b2841" />
<rect x="699.4" y="496" width="9.6" height="8.2" fill="#6b2841" />
<rect x="710.7" y="496.8" width="9.5" height="7.4" fill="#6b2841" />
<rect x="721.9" y="488.7" width="9.6" height="15.5" fill="#6b2841" />
<rect x="733.3" y="459.1" width="9.4" height="45.1" fill="#6b2841" />
<text transform="translate(630.5,478.35) rotate(-90)" font-size="3.1" fill="#666" text-anchor="middle">Number of Households</text>
<text x="647.3" y="507.3" font-size="2.5" fill="#777" text-anchor="middle" >&lt;10%</text>
<text x="658.5" y="507.3" font-size="2.5" fill="#777" text-anchor="middle" >10-14%</text>
<text x="669.7" y="507.3" font-size="2.5" fill="#777" text-anchor="middle" >15-19%</text>
<text x="680.9" y="507.3" font-size="2.5" fill="#777" text-anchor="middle" >20-24%</text>
<text x="692.1" y="507.3" font-size="2.5" fill="#777" text-anchor="middle" >25-29%</text>
<text x="703.3" y="507.3" font-size="2.5" fill="#777" text-anchor="middle" >30-34%</text>
<text x="714.5" y="507.3" font-size="2.5" fill="#777" text-anchor="middle" >35-39%</text>
<text x="725.7" y="507.3" font-size="2.5" fill="#777" text-anchor="middle" >40-49%</text>
<text x="736.9" y="507.3" font-size="2.5" fill="#777" text-anchor="middle" >&gt;50%</text>
<polygon points="773.3,444.4 899.8,444.4 899.8,447.5 885,447.5 880.4,452.5 769.2,452.5" fill="#6b2841" />
<rect x="757.5" y="451.7" width="13" height="0.9" fill="#6b2841" />
<text x="832.5" y="451.2" font-size="8" fill="#ffffff" font-weight="700" text-anchor="middle" textLength="55.5" lengthAdjust="spacingAndGlyphs" >Year Property Built</text>
<line x1="783.5" y1="457.6" x2="895.8" y2="457.6" stroke="#e6ddcc" stroke-width="0.5" />
<line x1="783.5" y1="465.36" x2="895.8" y2="465.36" stroke="#e6ddcc" stroke-width="0.5" />
<line x1="783.5" y1="473.12" x2="895.8" y2="473.12" stroke="#e6ddcc" stroke-width="0.5" />
<line x1="783.5" y1="480.88" x2="895.8" y2="480.88" stroke="#e6ddcc" stroke-width="0.5" />
<line x1="783.5" y1="488.64" x2="895.8" y2="488.64" stroke="#e6ddcc" stroke-width="0.5" />
<line x1="783.5" y1="496.4" x2="895.8" y2="496.4" stroke="#b9ad9a" stroke-width="0.5" />
<line x1="783.5" y1="456.6" x2="783.5" y2="496.4" stroke="#b9ad9a" stroke-width="0.4" />
<text x="782.3" y="458.6" font-size="2.9" fill="#555" text-anchor="end" >50%</text>
<text x="782.3" y="466.36" font-size="2.9" fill="#555" text-anchor="end" >40%</text>
<text x="782.3" y="474.12" font-size="2.9" fill="#555" text-anchor="end" >30%</text>
<text x="782.3" y="481.88" font-size="2.9" fill="#555" text-anchor="end" >20%</text>
<text x="782.3" y="489.64" font-size="2.9" fill="#555" text-anchor="end" >10%</text>
<text x="782.3" y="497.4" font-size="2.9" fill="#555" text-anchor="end" >0%</text>
<rect x="784.1" y="458" width="9" height="38.4" fill="#6b2841" />
<rect x="795.1" y="488.7" width="9.4" height="7.7" fill="#6b2841" />
<rect x="806.4" y="489.1" width="9.4" height="7.3" fill="#6b2841" />
<rect x="817.6" y="492" width="9.4" height="4.4" fill="#6b2841" />
<rect x="828.8" y="492" width="9.4" height="4.4" fill="#6b2841" />
<rect x="840" y="493.2" width="9.4" height="3.2" fill="#6b2841" />
<rect x="851.3" y="495" width="9.4" height="1.4" fill="#6b2841" />
<rect x="862.5" y="494.2" width="9.4" height="2.2" fill="#6b2841" />
<rect x="873.7" y="495.4" width="9.4" height="1" fill="#6b2841" />
<text transform="translate(790,499.4) rotate(-45)" font-size="3.1" fill="#666" text-anchor="end">Built 1939/Earlier</text>
<text transform="translate(801.2,499.4) rotate(-45)" font-size="3.1" fill="#666" text-anchor="end">1940-1949</text>
<text transform="translate(812.4,499.4) rotate(-45)" font-size="3.1" fill="#666" text-anchor="end">1950-1959</text>
<text transform="translate(823.6,499.4) rotate(-45)" font-size="3.1" fill="#666" text-anchor="end">1960-1969</text>
<text transform="translate(834.8,499.4) rotate(-45)" font-size="3.1" fill="#666" text-anchor="end">1970-1979</text>
<text transform="translate(846,499.4) rotate(-45)" font-size="3.1" fill="#666" text-anchor="end">1980-1989</text>
<text transform="translate(857.2,499.4) rotate(-45)" font-size="3.1" fill="#666" text-anchor="end">1990-1999</text>
<text transform="translate(868.4,499.4) rotate(-45)" font-size="3.1" fill="#666" text-anchor="end">2000-2009</text>
<text transform="translate(879.6,499.4) rotate(-45)" font-size="3.1" fill="#666" text-anchor="end">2010-2013</text>
<text transform="translate(890.8,499.4) rotate(-45)" font-size="3.1" fill="#666" text-anchor="end">2014 or Later</text>
<text transform="translate(770.8,477) rotate(-90)" font-size="3.1" fill="#666" text-anchor="middle">Percent of Households</text>
<polygon points="615.3,513.3 621.7,513.3 625,515.8 899.8,515.8 899.8,522.8 615.3,522.8" fill="#6b2841" />
<circle cx="620.5" cy="519.6" r="1.9" fill="#ffffff" />
<text x="623" y="521" font-size="4.6" fill="#ffffff" font-weight="700" >esri</text>
<rect x="633" y="517.8" width="3" height="3" fill="#a06a7a" />
<text x="898" y="521.2" font-size="3.1" fill="#ffffff" text-anchor="end" textLength="144" lengthAdjust="spacingAndGlyphs" >Source: This infographic contains data provided by Esri (2023), ACS (2017-2021), U.S. Census (2020), PENNSYLVANIA</text>
<text x="618.5" y="528.3" font-size="3" fill="#777" textLength="138" lengthAdjust="spacingAndGlyphs" >Source: This infographic contains data provided by Esri (2023), ACS (2017-2021), U.S. Census (2020), PENNSYLVANIA</text>
</svg>
</body></html>
